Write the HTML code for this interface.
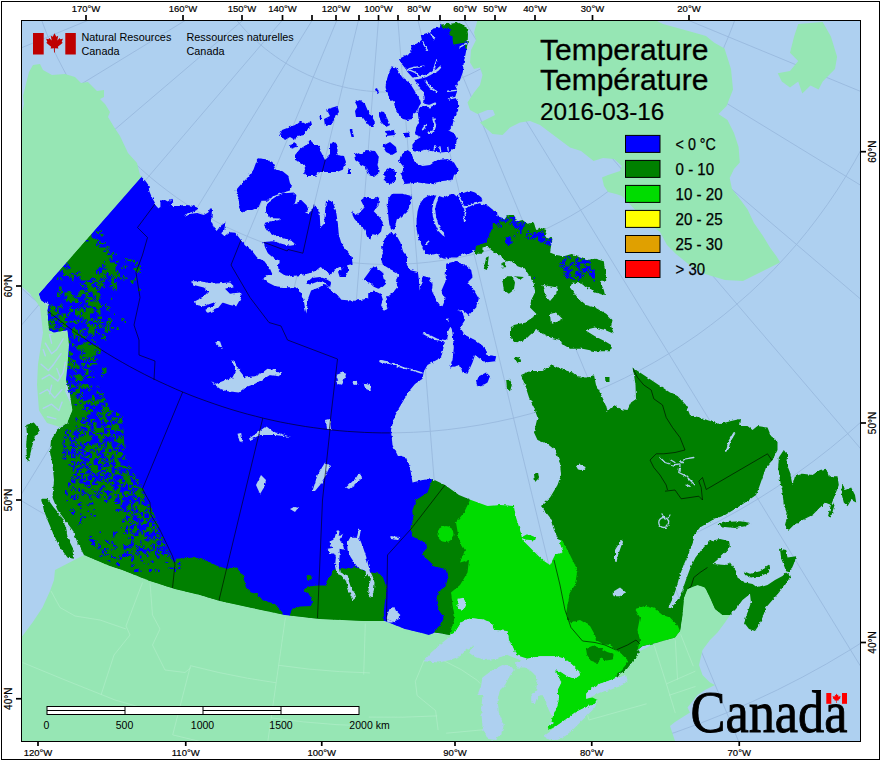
<!DOCTYPE html><html><head><meta charset="utf-8"><title>Temperature</title><style>html,body{margin:0;padding:0;background:#fff}svg{display:block}text{font-family:"Liberation Sans",sans-serif;fill:#000}</style></head><body>
<svg width="880" height="760" viewBox="0 0 880 760">
<defs><clipPath id="can">
<polygon points="141.4,176.9 145.7,181.2 148.4,184.9 149.3,191.3 152.1,197.8 155.8,204.2 157.6,208.8 160.4,207.0 160.4,200.5 165.0,200.1 167.8,201.4 171.4,198.7 173.3,203.3 169.6,206.0 177.9,206.0 185.2,205.1 192.6,205.7 199.1,208.3 194.5,211.2 187.1,213.4 184.9,216.7 190.8,213.8 197.2,213.0 203.7,214.9 208.3,212.5 210.1,208.3 212.0,209.4 211.4,220.8 213.8,227.2 216.6,230.9 220.2,226.3 225.4,222.6 224.3,230.0 221.2,233.3 224.8,236.4 230.4,232.2 235.3,232.7 240.5,239.6 245.1,245.6 251.5,250.2 257.1,257.6 264.4,261.3 270.0,268.7 272.7,275.1 266.0,275.3 263.3,278.9 267.9,282.6 275.3,286.3 284.5,287.2 295.5,287.2 300.0,291.0 303.7,300.0 305.0,308.0 306.4,313.6 307.5,305.0 308.3,297.9 311.1,290.5 318.4,287.8 324.9,284.1 327.6,285.9 330.4,290.5 336.8,294.2 341.4,299.7 353.4,300.7 362.6,299.7 368.2,297.9 368.2,293.3 373.7,290.5 381.1,294.2 382.9,299.7 381.1,305.3 383.8,310.8 387.5,308.9 385.7,301.6 387.5,297.0 393.0,292.4 397.6,286.8 395.8,280.4 398.6,274.9 395.8,272.1 390.3,269.3 382.9,264.7 381.1,259.2 382.9,253.7 382.0,244.5 385.7,237.1 390.3,232.5 395.8,234.3 400.4,242.6 403.2,251.8 407.8,257.4 406.8,264.7 410.5,270.3 417.9,272.1 418.8,279.5 419.7,290.5 421.6,283.2 422.5,275.8 428.9,277.6 432.6,285.0 431.7,290.5 436.3,299.7 440.0,305.3 442.5,306.2 445.5,298.8 441.2,291.2 445.5,281.2 446.2,263.8 455.0,261.2 465.0,265.0 471.2,270.0 472.5,277.5 467.5,282.5 473.8,290.0 478.8,298.8 476.2,307.5 468.8,315.0 462.5,310.0 455.0,311.2 455.0,317.5 446.2,318.8 451.2,325.0 447.5,332.5 446.2,340.0 437.5,338.8 425.0,332.5 422.5,333.8 433.8,340.0 445.0,341.2 441.2,357.5 427.5,365.0 423.8,371.2 422.5,378.8 415.0,384.0 410.0,390.0 405.0,398.0 399.0,408.0 394.0,418.0 391.0,430.0 392.5,445.0 397.5,455.0 406.0,457.5 410.0,467.5 412.5,482.5 422.5,480.0 432.5,479.0 445.0,485.0 459.0,495.0 471.0,500.0 487.5,506.0 500.0,505.0 514.0,506.0 516.0,517.5 520.0,530.0 522.5,540.0 532.5,550.0 542.5,560.0 550.0,565.0 555.0,555.0 562.5,552.5 560.0,542.5 554.0,530.0 550.0,517.5 541.0,506.0 550.0,497.5 557.5,485.0 561.0,475.0 560.0,462.5 555.0,450.0 547.5,444.0 537.5,440.0 534.0,432.5 537.5,417.5 534.0,407.5 529.0,397.5 525.0,385.0 521.0,375.0 530.0,371.0 542.5,371.0 552.5,365.0 561.0,369.0 572.5,372.5 579.0,377.5 587.5,377.5 594.0,375.0 596.0,385.0 600.0,392.5 606.0,405.0 607.5,411.0 614.0,405.0 620.0,409.0 627.5,410.0 631.0,402.5 636.0,399.0 635.5,385.0 634.0,375.0 632.5,367.5 640.0,372.5 647.5,377.5 655.0,382.5 662.5,387.5 670.0,392.5 677.5,396.0 686.0,405.0 690.0,415.0 700.0,417.5 710.0,421.0 720.0,424.0 731.0,421.0 740.0,419.0 739.0,426.0 747.5,426.0 752.5,430.0 757.5,426.0 767.5,427.5 771.0,436.0 777.5,441.0 777.5,450.0 772.5,460.0 766.0,467.5 762.5,477.5 759.0,487.5 756.0,495.0 747.5,501.0 737.5,507.5 725.0,515.0 712.5,520.0 700.0,527.5 694.0,535.0 693.9,540.0 689.1,552.7 683.4,565.5 679.5,576.6 676.4,587.7 672.5,598.9 668.4,607.5 670.6,608.4 676.4,602.0 682.1,590.9 686.5,578.2 690.7,567.0 695.5,557.5 701.8,549.5 709.8,541.0 720.0,539.0 729.0,541.0 730.0,546.0 727.5,550.0 720.0,557.5 712.5,564.0 725.0,565.0 730.0,562.5 736.0,571.0 737.5,577.5 745.0,582.5 752.5,584.0 758.0,588.0 767.5,585.0 775.0,580.0 782.5,576.0 786.0,572.5 791.0,576.0 785.0,584.0 779.0,592.5 772.5,600.0 766.0,607.5 762.5,617.5 759.0,625.0 755.0,631.0 749.0,629.0 744.0,622.5 747.5,612.5 751.0,602.5 750.0,594.0 742.5,600.0 736.0,609.0 730.0,615.0 722.5,615.0 715.0,609.0 710.0,597.5 705.0,587.5 697.5,585.0 687.5,589.0 684.0,597.5 682.5,615.0 680.0,631.0 675.0,637.5 657.5,642.5 642.5,646.0 637.5,650.0 640.0,651.2 630.0,665.0 626.2,670.0 620.0,673.8 617.5,677.5 607.5,681.2 600.0,683.8 592.5,687.5 586.2,693.8 586.2,698.8 592.5,697.5 597.5,700.0 595.0,703.8 585.0,707.5 575.0,712.5 565.0,720.0 556.2,726.2 548.8,730.0 547.5,726.2 551.2,723.8 552.5,717.5 556.2,708.8 558.8,700.0 557.5,690.0 561.2,682.5 558.8,677.5 555.0,670.0 560.0,671.2 567.5,676.2 575.0,678.8 580.0,675.0 578.8,671.2 572.5,665.0 565.0,658.8 555.0,656.2 540.0,656.2 527.5,658.8 516.2,655.0 512.5,646.2 508.8,640.0 507.5,631.2 495.0,630.0 491.2,622.5 482.5,619.5 470.0,618.0 461.2,622.5 455.0,632.5 450.0,635.0 435.0,632.5 428.8,635.0 420.0,632.5 405.0,629.0 385.0,621.0 365.0,621.0 320.0,619.0 285.0,615.0 252.0,608.0 220.0,601.0 200.0,595.0 175.0,589.0 150.0,581.0 122.5,570.0 110.0,566.0 97.0,560.5 84.0,555.0 77.5,542.5 72.5,530.0 65.0,520.0 57.5,510.0 52.5,497.5 54.0,480.0 52.5,465.0 50.0,452.5 51.0,440.0 57.5,430.0 67.5,422.5 72.5,410.0 70.0,395.0 66.0,380.0 67.5,365.0 69.0,345.0 67.5,330.0 54.0,332.5 49.0,330.0 47.5,310.0 49.0,304.0 41.0,300.0 39.0,294.0"/>
<polygon points="306.0,283.0 312.0,278.0 320.0,277.0 326.0,279.0 331.0,282.0 330.0,288.0 325.0,283.0 318.0,281.5 310.0,284.5"/>
<polygon points="257.8,158.3 266.0,159.2 272.5,162.0 275.3,169.3 282.6,171.2 288.2,175.8 290.0,183.2 292.8,186.8 290.0,190.5 280.8,193.3 271.6,197.0 266.0,200.7 261.4,200.7 258.7,207.1 252.2,209.9 247.6,209.9 242.1,212.6 239.3,205.3 238.4,197.9 235.7,190.5 240.3,185.0 247.6,177.6 253.2,170.3 255.9,162.9"/>
<polygon points="266.0,207.1 268.8,201.6 275.3,197.0 284.5,193.3 293.7,192.4 296.4,195.1 295.5,201.6 292.8,204.3 297.4,203.4 301.0,199.7 306.6,205.3 308.4,209.9 303.8,212.6 308.4,213.6 313.0,208.9 313.9,204.3 319.5,210.8 320.4,227.4 324.1,223.7 325.0,212.6 325.9,201.6 328.7,199.7 332.4,201.6 336.0,210.8 337.9,223.7 338.8,234.7 341.6,243.9 347.1,251.3 351.7,256.8 352.6,264.2 347.1,265.1 348.9,269.7 345.3,277.1 339.7,277.1 337.9,271.6 342.5,269.7 341.6,266.1 334.2,269.7 330.5,275.3 325.0,269.7 320.4,267.0 315.8,270.7 308.4,273.4 299.2,275.3 290.0,276.2 284.5,275.3 278.9,271.6 278.0,266.1 279.9,260.5 274.3,258.7 267.9,253.2 265.1,247.6 263.3,242.1 273.4,241.2 282.6,243.9 290.0,245.8 294.6,244.9 292.8,241.2 284.5,238.4 275.3,235.7 267.9,231.1 264.2,225.5 265.1,222.8 271.6,220.9 280.8,220.0 279.9,218.5 271.6,218.2 267.9,216.3 266.0,211.7"/>
<polygon points="352.5,210.4 355.3,215.0 360.8,211.3 364.5,207.6 360.8,200.3 364.5,197.5 373.7,198.4 379.2,197.5 378.3,205.8 373.7,211.3 379.2,216.8 382.9,222.4 381.1,231.6 377.4,235.3 372.8,234.3 370.0,239.9 367.2,237.1 364.5,229.7 358.9,224.2 354.3,218.7 352.5,215.0"/>
<polygon points="388.4,198.4 392.1,193.8 403.2,193.8 410.5,195.7 411.4,202.1 406.8,211.3 401.3,216.8 396.7,219.6 394.9,227.9 391.2,229.7 389.3,224.2 388.4,216.8 387.5,207.6"/>
<polygon points="363.6,279.5 369.1,272.1 372.8,266.2 377.4,268.4 382.0,272.1 383.8,279.5 386.6,283.2 382.9,286.8 378.3,288.7 373.7,286.8 370.0,283.2 366.3,281.3"/>
<polygon points="279.0,136.0 282.0,130.0 295.0,125.0 300.0,121.0 306.0,124.0 311.0,121.0 312.0,125.0 307.0,130.0 304.0,135.0 297.0,136.0 295.0,140.0 290.0,137.0 285.0,140.0 281.0,136.0"/>
<polygon points="295.0,155.0 300.0,149.0 306.0,145.0 310.0,140.0 314.0,144.0 319.0,145.0 321.0,152.0 325.0,160.0 330.0,155.0 330.0,145.0 334.0,141.0 337.5,145.0 337.5,155.0 344.0,156.0 346.0,162.0 342.0,170.0 337.0,172.0 327.0,172.0 320.0,172.0 315.0,176.0 307.0,176.0 304.0,172.0 306.0,167.0 300.0,162.0 295.0,160.0"/>
<polygon points="289.0,145.0 296.0,143.0 297.0,147.0 291.0,149.0"/>
<polygon points="327.5,109.0 337.5,106.0 339.0,112.0 335.0,117.0 331.0,125.0 325.0,126.0 324.0,119.0 330.0,116.0 327.5,111.0"/>
<polygon points="319.5,115.0 321.0,115.0 321.5,120.0 320.0,120.0"/>
<polygon points="355.0,102.0 360.0,100.0 365.0,104.0 367.5,110.0 371.0,115.0 375.0,122.0 372.5,127.0 367.5,124.0 362.5,117.0 356.0,117.0 355.0,111.0 357.5,107.0"/>
<polygon points="379.0,111.0 384.0,112.0 387.5,119.0 390.0,125.0 386.0,127.0 381.0,122.0 379.0,116.0"/>
<polygon points="385.0,131.0 394.0,130.0 395.0,135.0 386.0,136.0"/>
<polygon points="404.0,133.0 409.0,132.5 410.0,137.0 405.0,137.5"/>
<polygon points="349.5,129.0 352.0,129.0 354.0,137.0 351.5,137.0"/>
<polygon points="375.0,89.0 377.0,88.0 379.0,93.0 377.0,94.0"/>
<polygon points="354.0,152.0 360.0,155.0 366.0,150.0 375.0,151.0 379.0,157.0 377.5,165.0 380.0,172.0 374.0,177.0 369.0,175.0 366.0,167.0 360.0,164.0 355.0,160.0"/>
<polygon points="382.5,146.0 390.0,142.0 396.0,147.0 397.0,152.0 392.0,155.0 386.0,152.0"/>
<polygon points="384.0,172.5 390.0,167.5 396.0,172.5 396.0,180.0 390.0,184.0 385.0,181.0"/>
<polygon points="347.5,169.0 351.0,169.0 351.0,174.0 347.5,174.0"/>
<polygon points="416.0,128.0 421.0,126.0 424.0,130.0 422.0,135.0 417.0,134.0"/>
<polygon points="399.0,161.0 401.0,155.0 407.5,150.0 411.0,152.5 415.0,162.5 422.5,166.0 430.0,165.0 437.5,160.0 447.5,159.0 454.0,162.5 459.0,171.0 454.0,175.0 452.5,180.0 442.5,181.0 430.0,184.0 417.5,182.5 405.0,184.0 401.0,175.0 404.0,167.5"/>
<polygon points="392.2,66.5 396.0,67.5 398.9,72.3 402.7,78.0 407.5,81.4 410.9,84.7 413.8,89.4 416.5,94.2 419.9,99.0 421.0,103.2 418.9,106.6 417.0,112.3 413.2,113.3 412.3,119.0 407.5,120.0 402.7,119.0 398.9,114.2 395.1,108.5 394.1,102.8 389.4,99.0 387.5,93.2 385.5,87.5 386.5,80.8 388.4,74.2 390.3,69.4"/>
<polygon points="440.9,24.5 452.3,23.6 458.1,22.6 466.6,26.5 468.0,34.1 467.6,43.6 465.7,53.2 463.8,62.7 462.8,72.3 460.0,79.9 456.2,85.6 457.1,91.3 455.2,97.1 458.1,102.8 458.1,110.4 454.2,118.1 452.3,125.7 448.5,130.5 454.2,133.3 457.1,139.0 455.2,146.7 450.4,151.5 440.9,152.4 433.3,151.5 425.6,149.5 418.9,151.5 413.2,151.5 412.3,144.8 416.1,140.0 420.8,137.1 415.1,134.3 416.1,127.6 418.9,121.9 418.0,114.2 418.9,108.5 424.1,103.7 424.7,97.1 422.8,91.3 419.5,88.1 417.0,83.1 413.8,78.9 407.5,71.9 404.6,67.5 400.8,62.7 398.9,58.9 404.6,56.0 411.3,52.2 411.3,45.5 417.0,43.6 421.8,39.8 420.8,35.0 429.4,32.2 433.3,28.4 439.0,27.4"/>
<polygon points="417.6,211.3 419.7,203.9 423.4,198.7 428.7,195.5 437.6,195.5 443.4,197.6 449.7,194.5 453.9,193.9 456.6,196.6 458.2,192.9 463.4,192.9 469.7,190.8 475.0,192.4 480.3,196.6 482.4,200.8 478.2,202.4 481.3,203.9 487.6,205.5 492.9,209.7 497.1,211.8 497.5,216.2 505.0,218.8 507.5,215.0 513.8,215.0 517.5,221.2 522.5,220.0 527.5,223.8 533.8,222.5 536.2,230.0 540.0,227.5 546.2,230.0 545.0,236.2 552.5,238.8 551.2,245.0 550.0,252.5 556.2,255.0 563.8,256.2 572.5,253.8 580.0,257.5 586.2,260.0 595.0,258.8 603.8,261.2 605.0,270.0 606.2,280.0 600.0,281.2 603.8,290.0 605.0,295.0 595.0,292.5 587.5,287.5 582.5,283.8 572.5,282.5 570.0,287.5 577.5,297.5 586.2,305.0 595.0,307.5 606.2,313.8 612.5,320.0 611.2,326.2 613.8,333.8 605.0,330.0 595.0,327.5 585.0,330.0 595.0,336.2 605.0,341.2 611.2,345.0 610.0,351.2 595.0,351.2 582.5,348.8 570.0,348.8 563.8,345.0 560.0,340.0 550.0,337.5 542.5,333.8 536.2,330.0 530.0,335.0 525.0,340.0 516.2,342.5 510.0,337.5 510.0,330.0 513.8,325.0 525.0,322.5 532.5,317.5 537.5,315.0 530.0,307.5 531.2,300.0 535.0,292.5 533.8,283.8 528.8,275.0 525.0,268.8 517.5,266.2 512.5,261.2 506.2,261.2 500.0,256.2 491.2,250.0 487.5,246.2 482.5,247.5 482.5,253.8 475.0,253.8 475.0,245.0 475.0,250.3 471.8,252.4 467.6,254.5 461.3,254.5 457.1,257.6 450.8,257.6 445.5,258.7 439.7,257.6 437.6,253.4 430.8,255.0 425.5,253.4 422.4,248.2 422.9,245.2 420.8,242.4 418.2,237.6 416.6,229.2 416.6,219.7"/>
<polygon points="502.5,281.2 506.2,276.2 512.5,276.2 515.0,282.5 513.8,290.0 508.8,293.8 503.8,290.0"/>
<polygon points="515.0,276.2 523.8,277.0 520.0,280.0"/>
<polygon points="483.8,268.8 486.2,257.5 488.8,256.2 487.0,270.0"/>
<polygon points="501.2,263.8 505.0,262.0 506.2,267.0 502.5,267.5"/>
<polygon points="447.5,317.5 455.0,310.0 462.5,312.5 465.0,320.0 460.0,327.5 465.0,335.0 475.0,340.0 485.0,347.5 487.5,355.0 496.2,356.2 495.0,361.2 485.0,362.5 475.0,355.0 472.5,362.5 467.5,373.8 462.5,372.5 460.0,365.0 450.0,367.5 452.5,360.0 453.8,347.5 452.5,332.5 450.0,325.0"/>
<polygon points="476.2,382.5 478.8,376.2 486.2,372.5 490.0,376.2 487.5,382.5 481.2,386.2 477.5,386.2"/>
<polygon points="506.2,380.0 510.0,378.8 511.8,385.0 510.0,391.2 507.0,388.8"/>
<polygon points="513.8,358.0 518.8,357.0 521.2,360.5 517.0,363.0"/>
<polygon points="605.0,377.0 609.5,377.0 609.5,382.0 605.5,382.0"/>
<polygon points="521.0,537.5 527.5,534.0 536.0,537.5 535.0,540.5 525.0,539.5"/>
<polygon points="534.0,474.0 538.0,472.0 539.0,478.0 535.0,482.0"/>
<polygon points="26.2,425.0 33.8,422.5 40.0,430.0 35.0,436.2 32.5,445.0 30.0,455.0 29.5,461.2 27.0,460.0 26.2,445.0 27.0,435.0"/>
<polygon points="41.2,498.8 47.5,498.8 53.8,507.5 61.2,516.2 66.2,527.5 67.5,537.5 73.8,550.0 73.8,558.8 67.5,557.5 60.0,547.5 53.8,535.0 47.5,520.0 43.8,510.0"/>
<polygon points="778.8,457.5 783.8,450.0 787.5,455.0 786.2,462.5 790.0,472.5 792.5,485.0 795.0,476.2 802.5,473.8 812.5,475.0 820.0,470.0 826.2,468.8 828.8,476.2 837.5,476.2 838.8,485.0 835.0,495.0 831.2,505.0 825.0,502.5 820.0,507.5 812.5,515.0 802.5,520.0 793.8,525.0 788.8,530.0 785.0,525.0 787.5,515.0 783.8,505.0 782.5,492.5 780.0,480.0 778.2,467.5"/>
<polygon points="842.5,482.5 845.0,490.0 851.2,487.5 855.0,495.0 856.2,502.5 851.2,500.0 847.5,506.2 843.8,502.5 841.2,492.5"/>
<polygon points="831.2,503.8 834.5,505.0 831.2,516.2 828.0,516.2"/>
<polygon points="717.5,524.5 726.2,522.0 740.0,521.2 751.2,523.0 745.0,526.2 735.0,528.0 725.0,527.0"/>
<polygon points="780.0,548.8 786.2,550.0 787.5,557.5 796.2,556.2 793.8,563.8 790.0,572.5 786.2,571.2 783.8,565.0 781.2,558.8"/>
<polygon points="743.8,571.2 750.0,573.8 760.0,571.2 770.0,565.0 768.8,572.5 760.0,576.2 750.0,577.5 745.0,575.0"/>
</clipPath><filter id="rag" x="0" y="0" width="880" height="760" filterUnits="userSpaceOnUse"><feTurbulence type="fractalNoise" baseFrequency="0.28" numOctaves="2" seed="4" result="t"/><feDisplacementMap in="SourceGraphic" in2="t" scale="3.2" xChannelSelector="R" yChannelSelector="G"/></filter><clipPath id="frame"><rect x="21" y="20" width="840" height="721"/></clipPath></defs>
<rect x="0" y="0" width="880" height="760" fill="#fff"/>
<g clip-path="url(#frame)">
<rect x="21" y="20" width="840" height="721" fill="#aed0f0"/>
<g fill="none" stroke="#98b9de" stroke-width="0.9">
<polyline points="345.9,-86.1 -602.1,305.2"/>
<polyline points="349.1,-79.7 -525.8,455.2"/>
<polyline points="378.2,-95.1 -427.1,591.5"/>
<polyline points="358.4,-68.8 -308.2,710.6"/>
<polyline points="364.2,-64.6 -172.1,809.6"/>
<polyline points="383.2,-91.5 -22.2,886.0"/>
<polyline points="377.5,-59.1 137.9,938.1"/>
<polyline points="384.6,-57.9 304.1,964.4"/>
<polyline points="389.2,-90.5 472.3,964.4"/>
<polyline points="398.9,-59.1 638.5,938.1"/>
<polyline points="405.7,-61.3 798.6,886.0"/>
<polyline points="395.1,-92.4 948.5,809.6"/>
<polyline points="418.0,-68.8 1084.6,710.6"/>
<polyline points="423.1,-73.9 1203.5,591.5"/>
<polyline points="399.4,-96.7 1302.2,455.2"/>
<polyline points="430.5,-86.1 1378.5,305.2"/>
<polyline points="-493.0,-35.6 -490.4,-7.9 -487.0,19.7 -482.6,47.1 -477.5,74.4 -471.5,101.6 -464.6,128.5 -456.9,155.2 -448.3,181.6 -438.9,207.8 -428.7,233.7 -417.7,259.2 -405.9,284.3 -393.3,309.1 -380.0,333.5 -365.8,357.4 -351.0,380.9 -335.4,403.9 -319.1,426.4 -302.0,448.4 -284.3,469.8 -266.0,490.7 -247.0,510.9 -227.3,530.6 -207.1,549.6 -186.3,568.0 -164.9,585.8 -142.9,602.8 -120.4,619.2 -97.5,634.8 -74.0,649.7 -50.1,663.9 -25.7,677.3 -1.0,689.9 24.2,701.7 49.7,712.8 75.5,723.0 101.6,732.5 128.1,741.1 154.8,748.8 181.7,755.7 208.8,761.8 236.1,767.0 263.5,771.4 291.1,774.9 318.8,777.5 346.5,779.2 374.3,780.1 402.1,780.1 429.9,779.2 457.6,777.5 485.3,774.9 512.9,771.4 540.3,767.0 567.6,761.8 594.7,755.7 621.6,748.8 648.3,741.1 674.8,732.5 700.9,723.0 726.7,712.8 752.2,701.7 777.4,689.9 802.1,677.3 826.5,663.9 850.4,649.7 873.9,634.8 896.8,619.2 919.3,602.8 941.3,585.8 962.7,568.0 983.5,549.6 1003.7,530.6 1023.4,510.9 1042.4,490.7 1060.7,469.8 1078.4,448.4 1095.5,426.4 1111.8,403.9 1127.4,380.9 1142.2,357.4 1156.4,333.5 1169.7,309.1 1182.3,284.3 1194.1,259.2 1205.1,233.7 1215.3,207.8 1224.7,181.6 1233.3,155.2 1241.0,128.5 1247.9,101.6 1253.9,74.4 1259.0,47.1 1263.4,19.7 1266.8,-7.9 1269.4,-35.6"/>
<polyline points="-316.7,-49.2 -314.6,-27.0 -311.9,-5.0 -308.4,17.0 -304.3,38.8 -299.5,60.5 -294.0,82.1 -287.8,103.4 -281.0,124.6 -273.4,145.5 -265.3,166.2 -256.5,186.6 -247.0,206.7 -237.0,226.5 -226.3,246.0 -215.0,265.2 -203.1,284.0 -190.6,302.4 -177.6,320.4 -163.9,337.9 -149.8,355.1 -135.1,371.8 -119.9,388.0 -104.2,403.7 -88.0,419.0 -71.3,433.7 -54.2,447.9 -36.7,461.5 -18.7,474.6 -0.3,487.1 18.5,499.0 37.6,510.3 57.1,521.0 76.9,531.2 97.0,540.6 117.4,549.5 138.1,557.7 159.0,565.2 180.1,572.1 201.5,578.3 223.0,583.8 244.7,588.7 266.5,592.8 288.5,596.3 310.5,599.1 332.7,601.2 354.9,602.6 377.1,603.3 399.3,603.3 421.5,602.6 443.7,601.2 465.9,599.1 487.9,596.3 509.9,592.8 531.7,588.7 553.4,583.8 574.9,578.3 596.3,572.1 617.4,565.2 638.3,557.7 659.0,549.5 679.4,540.6 699.5,531.2 719.3,521.0 738.8,510.3 757.9,499.0 776.7,487.1 795.1,474.6 813.1,461.5 830.6,447.9 847.7,433.7 864.4,419.0 880.6,403.7 896.3,388.0 911.5,371.8 926.2,355.1 940.3,337.9 954.0,320.4 967.0,302.4 979.5,284.0 991.4,265.2 1002.7,246.0 1013.4,226.5 1023.4,206.7 1032.9,186.6 1041.7,166.2 1049.8,145.5 1057.4,124.6 1064.2,103.4 1070.4,82.1 1075.9,60.5 1080.7,38.8 1084.8,17.0 1088.3,-5.0 1091.0,-27.0 1093.1,-49.2"/>
<polyline points="-146.7,-62.3 -145.2,-45.5 -143.1,-28.8 -140.5,-12.1 -137.3,4.5 -133.7,20.9 -129.5,37.3 -124.8,53.5 -119.6,69.6 -113.9,85.4 -107.7,101.1 -101.0,116.6 -93.9,131.9 -86.2,146.9 -78.1,161.7 -69.5,176.3 -60.5,190.5 -51.0,204.5 -41.1,218.1 -30.8,231.5 -20.1,244.5 -8.9,257.1 2.6,269.5 14.5,281.4 26.8,293.0 39.5,304.1 52.5,314.9 65.8,325.2 79.4,335.2 93.4,344.6 107.6,353.7 122.1,362.3 136.9,370.4 151.9,378.1 167.2,385.3 182.7,392.0 198.4,398.2 214.2,403.9 230.3,409.1 246.5,413.9 262.8,418.1 279.3,421.7 295.9,424.9 312.5,427.5 329.3,429.7 346.1,431.3 362.9,432.3 379.8,432.8 396.6,432.8 413.5,432.3 430.3,431.3 447.1,429.7 463.9,427.5 480.5,424.9 497.1,421.7 513.6,418.1 529.9,413.9 546.1,409.1 562.2,403.9 578.0,398.2 593.7,392.0 609.2,385.3 624.5,378.1 639.5,370.4 654.3,362.3 668.8,353.7 683.0,344.6 697.0,335.2 710.6,325.2 723.9,314.9 736.9,304.1 749.6,293.0 761.9,281.4 773.8,269.5 785.3,257.1 796.5,244.5 807.2,231.5 817.5,218.1 827.4,204.5 836.9,190.5 845.9,176.3 854.5,161.7 862.6,146.9 870.3,131.9 877.4,116.6 884.1,101.1 890.3,85.4 896.0,69.6 901.2,53.5 905.9,37.3 910.1,20.9 913.7,4.5 916.9,-12.1 919.5,-28.8 921.6,-45.5 923.1,-62.3"/>
<polyline points="21.3,-75.3 22.4,-63.8 23.8,-52.3 25.6,-40.8 27.7,-29.5 30.2,-18.2 33.1,-7.0 36.3,4.2 39.9,15.2 43.8,26.1 48.0,36.8 52.6,47.5 57.5,57.9 62.8,68.2 68.3,78.4 74.2,88.4 80.4,98.1 86.9,107.7 93.7,117.1 100.8,126.2 108.2,135.2 115.8,143.8 123.7,152.3 131.9,160.5 140.3,168.4 149.0,176.1 157.9,183.4 167.1,190.5 176.4,197.4 186.0,203.9 195.7,210.1 205.7,216.0 215.8,221.5 226.1,226.8 236.6,231.7 247.2,236.3 258.0,240.6 268.9,244.5 279.9,248.1 291.0,251.3 302.2,254.2 313.5,256.7 324.9,258.9 336.3,260.7 347.8,262.2 359.3,263.3 370.8,264.0 382.4,264.4 394.0,264.4 405.6,264.0 417.1,263.3 428.6,262.2 440.1,260.7 451.5,258.9 462.9,256.7 474.2,254.2 485.4,251.3 496.5,248.1 507.5,244.5 518.4,240.6 529.2,236.3 539.8,231.7 550.3,226.8 560.6,221.5 570.7,216.0 580.7,210.1 590.4,203.9 600.0,197.4 609.3,190.5 618.5,183.4 627.4,176.1 636.1,168.4 644.5,160.5 652.7,152.3 660.6,143.8 668.2,135.2 675.6,126.2 682.7,117.1 689.5,107.7 696.0,98.1 702.2,88.4 708.1,78.4 713.6,68.2 718.9,57.9 723.8,47.5 728.4,36.8 732.6,26.1 736.5,15.2 740.1,4.2 743.3,-7.0 746.2,-18.2 748.7,-29.5 750.8,-40.8 752.6,-52.3 754.0,-63.8 755.1,-75.3"/>
<polyline points="193.1,-88.5 193.6,-82.4 194.4,-76.3 195.3,-70.2 196.5,-64.2 197.8,-58.2 199.3,-52.2 201.1,-46.3 202.9,-40.4 205.0,-34.6 207.3,-28.9 209.7,-23.3 212.3,-17.7 215.1,-12.2 218.1,-6.8 221.2,-1.5 224.5,3.7 228.0,8.8 231.6,13.8 235.3,18.6 239.3,23.4 243.3,28.0 247.5,32.5 251.9,36.9 256.4,41.1 261.0,45.1 265.7,49.1 270.6,52.8 275.6,56.5 280.6,59.9 285.8,63.2 291.1,66.4 296.5,69.3 302.0,72.1 307.6,74.8 313.2,77.2 318.9,79.5 324.7,81.6 330.6,83.5 336.5,85.2 342.5,86.7 348.5,88.1 354.5,89.2 360.6,90.2 366.7,90.9 372.8,91.5 379.0,91.9 385.1,92.1 391.3,92.1 397.4,91.9 403.6,91.5 409.7,90.9 415.8,90.2 421.9,89.2 427.9,88.1 433.9,86.7 439.9,85.2 445.8,83.5 451.7,81.6 457.5,79.5 463.2,77.2 468.8,74.8 474.4,72.1 479.9,69.3 485.3,66.4 490.6,63.2 495.8,59.9 500.8,56.5 505.8,52.8 510.7,49.1 515.4,45.1 520.0,41.1 524.5,36.9 528.9,32.5 533.1,28.0 537.1,23.4 541.1,18.6 544.8,13.8 548.4,8.8 551.9,3.7 555.2,-1.5 558.3,-6.8 561.3,-12.2 564.1,-17.7 566.7,-23.3 569.1,-28.9 571.4,-34.6 573.5,-40.4 575.3,-46.3 577.1,-52.2 578.6,-58.2 579.9,-64.2 581.1,-70.2 582.0,-76.3 582.8,-82.4 583.3,-88.5"/>
</g>
<g fill="#96e6b4">
<polygon points="21.0,117.0 22.0,112.0 24.0,104.0 23.0,96.0 26.0,84.0 29.0,72.0 33.0,65.0 40.0,64.0 43.0,70.0 52.0,75.0 65.0,74.0 75.0,77.0 81.0,83.0 88.0,82.0 97.0,91.0 104.0,90.0 104.0,97.0 100.0,99.0 105.0,104.0 110.0,112.0 108.0,117.0 114.0,127.0 120.0,136.0 128.0,153.0 137.0,163.0 140.0,175.0 142.0,177.0 39.0,294.0 32.5,296.0 26.0,290.0 21.0,286.0"/>
<polygon points="39.0,294.0 41.0,300.0 47.4,306.0 47.5,310.0 48.4,330.5 54.0,332.5 68.4,331.6 69.0,345.0 68.4,364.0 65.0,391.6 71.6,406.0 72.5,410.0 67.4,423.0 60.0,427.0 47.0,423.0 39.0,410.5 37.0,385.0 38.0,364.0 43.0,332.6 40.0,307.0 35.0,300.0 30.5,294.7"/>
<polygon points="55.0,570.0 84.0,555.0 110.0,566.0 122.5,570.0 150.0,581.0 175.0,589.0 200.0,595.0 220.0,601.0 285.0,615.0 320.0,619.0 365.0,621.0 385.0,621.0 405.0,629.0 420.0,632.5 450.0,635.0 470.0,640.0 520.0,660.0 560.0,700.0 600.0,690.0 630.0,665.0 640.0,651.0 657.5,642.5 675.0,637.5 680.0,631.0 682.5,615.0 684.0,597.5 687.5,589.0 697.5,585.0 705.0,587.5 710.0,597.5 715.0,609.0 722.5,615.0 730.0,615.0 725.0,622.5 717.5,632.5 710.0,640.0 702.5,650.0 699.0,665.0 702.5,675.0 710.0,682.5 715.0,685.0 705.0,690.0 697.5,695.0 687.5,707.5 690.0,712.5 675.0,722.0 670.0,726.0 675.0,741.0 21.0,741.0 21.0,636.0 22.5,636.0 32.5,622.5 42.5,607.5 50.0,591.0 54.0,580.0"/>
<polygon points="477.5,20.0 474.0,32.5 476.0,40.0 471.0,50.0 470.0,62.5 474.0,69.0 480.0,67.5 482.5,75.0 480.0,85.0 474.0,92.5 467.5,102.5 470.0,110.0 477.5,114.0 487.5,110.0 493.0,110.0 495.0,115.0 485.0,120.0 480.0,122.5 485.0,127.5 492.5,134.0 502.5,135.0 510.0,127.5 520.0,122.5 530.0,121.0 540.0,125.0 550.0,132.5 560.0,140.0 570.0,147.5 581.0,151.0 593.6,161.0 603.0,158.0 614.0,159.0 622.0,166.0 620.0,171.0 608.0,175.0 602.0,177.5 604.0,186.0 608.0,192.0 616.0,194.0 622.0,196.0 640.0,215.0 655.0,228.0 660.0,232.0 667.0,245.0 676.0,254.0 689.5,265.0 705.0,274.0 725.0,280.0 743.0,281.0 761.0,272.0 779.0,263.0 780.0,262.0 776.6,256.5 770.0,247.5 763.0,236.0 754.0,223.0 747.6,209.5 741.0,200.5 732.0,189.0 729.7,178.0 734.0,169.0 739.8,162.5 738.6,147.0 734.0,133.0 727.5,120.0 718.5,114.0 726.6,106.0 733.0,89.5 731.0,69.0 724.5,48.6 714.0,42.5 706.0,36.0 692.0,32.0 663.0,24.0 655.0,20.0"/>
<polygon points="798.2,24.1 822.7,22.0 830.9,36.4 837.1,56.8 835.0,69.1 822.7,81.4 818.6,89.5 810.5,85.5 802.3,93.6 798.2,81.4 790.0,87.5 781.8,81.4 777.7,73.2 790.0,71.1 798.2,60.9 790.0,52.7 794.1,36.4"/>
</g>
<g stroke="#aed0f0" stroke-width="1.4" fill="none" stroke-linecap="round" stroke-linejoin="round">
<polyline points="45.3,343.2 51.6,353.7 56.8,349.5 63.2,338.9"/>
<polyline points="41.1,364.2 48.4,370.5 53.7,364.2 61.1,353.7"/>
<polyline points="42.1,378.9 49.5,374.7 57.9,381.1 63.2,372.6 65.3,362.1"/>
<polyline points="40.0,393.7 47.4,389.5 54.7,397.9 62.1,389.5"/>
<polyline points="43.2,408.4 51.6,404.2 58.9,410.5 62.1,402.1"/>
<polyline points="47.4,416.8 55.8,418.9"/>
<polyline points="51.6,343.2 49.5,334.7 53.7,333.7"/>
<polyline points="45.3,355.8 43.2,349.5"/>
<polyline points="51.6,385.3 49.5,393.7"/>
<polyline points="56.8,368.4 60.0,376.8"/>
</g>
<g stroke="#b4eecb" stroke-width="0.6" fill="none">
<polyline points="190.5,665.7 172.7,734.9"/>
<polyline points="286.0,613.5 266.1,753.5"/>
<polyline points="365.4,620.4 363.7,674.5"/>
<polyline points="190.5,665.7 218.8,672.5 247.4,678.2 276.2,682.8"/>
<polyline points="278.7,665.3 309.0,669.1 339.4,671.6 369.9,672.9"/>
<polyline points="172.7,734.9 202.5,742.0 232.5,748.0 262.7,753.0 293.1,756.9"/>
<polyline points="271.2,717.9 303.5,721.9 336.0,724.6 368.6,726.0"/>
<polyline points="142.5,582.5 126.0,626.0 130.0,635.0 114.0,655.0 101.0,695.0"/>
<polyline points="150.0,582.5 152.5,615.0 160.0,629.0 152.5,645.0 165.0,670.0 185.0,672.5 191.0,667.5"/>
<polyline points="51.0,591.0 60.0,607.5 75.0,616.0 100.0,620.0 126.0,629.0"/>
<polyline points="22.5,662.5 65.0,680.0 115.0,700.0 150.0,710.0"/>
<polyline points="587.6,714.8 588.9,720.0 646.6,703.8"/>
<polyline points="654.0,644.9 666.4,683.9 675.3,713.1"/>
<polyline points="675.1,637.1 677.6,679.9"/>
<polyline points="666.4,683.9 695.3,671.2"/>
<polyline points="669.1,695.3 695.6,686.4"/>
<polyline points="678.9,629.9 693.3,666.2"/>
<polyline points="443.6,660.6 461.4,669.7 477.3,680.4 480.2,683.6"/>
<polyline points="424.2,660.0 415.4,681.4 417.1,695.5 435.6,710.6 438.1,730.1"/>
<polyline points="368.8,717.1 403.0,717.2 437.2,715.9"/>
<polyline points="446.2,733.2 483.0,729.8"/>
</g>
<defs><g id="cl">
<g clip-path="url(#can)">
<rect x="0" y="0" width="880" height="760" fill="#0000ff"/>
<polygon points="500.0,18.0 494.0,205.0 492.5,227.5 486.0,242.5 476.0,246.0 474.0,258.0 492.0,300.0 498.0,380.0 470.0,440.0 432.5,479.0 427.5,492.5 416.0,500.0 412.3,511.0 413.3,518.4 410.5,527.6 412.3,536.8 419.7,539.6 426.2,543.3 427.1,547.9 421.5,554.3 428.9,560.8 434.4,566.3 445.5,569.1 448.3,577.3 445.5,586.6 438.1,592.1 436.3,599.4 439.0,610.5 443.6,617.0 441.8,623.4 436.3,628.9 431.7,636.3 430.0,745.0 870.0,745.0 870.0,18.0" fill="#008000"/>
<polygon points="470.0,500.0 475.0,480.0 530.0,480.0 545.0,520.0 553.0,540.0 562.5,541.0 570.0,555.0 577.5,570.0 575.0,585.0 570.0,592.5 567.5,605.0 566.0,615.0 570.0,622.5 580.0,620.0 590.0,626.0 595.0,635.0 596.0,640.0 605.0,645.0 612.5,650.0 620.0,652.5 627.5,660.0 625.0,666.0 617.5,672.5 600.0,740.0 440.0,740.0 450.0,632.5 455.0,617.5 452.5,605.0 451.0,592.5 460.0,585.0 467.5,572.5 469.0,560.0 460.0,562.5 465.0,550.0 459.0,540.0 456.0,522.5 464.0,512.5" fill="#00dc00"/>
<circle cx="445.5" cy="534" r="8" fill="#00dc00"/>
<polygon points="635.0,609.0 645.0,606.0 655.0,609.0 662.5,615.0 670.0,617.5 677.5,625.0 680.0,631.0 675.0,637.5 657.5,642.5 642.5,646.0 637.5,650.0 640.0,640.0 637.5,630.0 640.0,617.5" fill="#00dc00"/>
<polygon points="600.0,644.0 610.0,645.0 617.5,650.0 612.5,657.5 625.0,662.5 622.5,670.0 615.0,676.0 600.0,681.0" fill="#00dc00"/>
<polygon points="586.0,648.4 593.4,645.6 600.8,648.4 607.2,652.1 613.7,653.9 612.7,659.4 606.3,660.4 600.8,658.5 597.1,663.1 590.6,660.4 587.0,654.8" fill="#008000"/>
<polygon points="20.0,380.0 66.0,380.0 100.0,387.5 110.0,410.0 122.5,415.0 125.0,455.0 135.0,475.0 145.0,492.5 152.5,510.0 160.0,530.0 167.5,550.0 173.8,562.5 177.5,558.8 195.0,557.5 207.5,561.0 217.5,566.0 227.5,569.0 236.0,567.5 242.5,574.0 246.0,587.5 251.0,592.5 257.5,594.0 262.5,600.0 275.0,604.0 282.5,612.5 282.0,640.0 20.0,640.0" fill="#008000"/>
<polygon points="300.0,606.4 311.0,605.9 312.0,601.3 310.1,595.8 303.7,590.2 307.4,586.6 318.4,585.6 325.8,585.6 326.7,581.0 331.3,575.5 333.1,570.0 340.5,568.1 347.9,569.1 355.2,567.2 360.8,569.1 366.3,571.8 373.7,572.7 379.2,573.7 382.9,577.3 385.6,584.7 386.6,592.1 384.7,603.1 383.8,610.5 383.8,640.0 290.0,640.0 290.0,614.5 292.5,609.0" fill="#008000"/>
<circle cx="309.2" cy="577.3" r="2.4" fill="#008000"/>
<polygon points="440.9,22.6 469.5,20.7 469.5,41.7 460.0,43.6 453.3,44.6 452.3,36.0 448.5,34.1 451.4,29.3 446.6,28.4 441.8,27.4" fill="#008000"/>
<polygon points="464.7,44.6 468.6,44.0 468.6,49.0 465.3,48.4" fill="#008000"/>
<path d="M20,380h6v1.5h-6zM32,380h1.5v1.5h-1.5zM35,380h9v1.5h-9zM56,380h1.5v1.5h-1.5zM60.5,380h6v1.5h-6zM68,380h1.5v1.5h-1.5zM20,381.5h6v1.5h-6zM35,381.5h7.5v1.5h-7.5zM44,381.5h1.5v1.5h-1.5zM53,381.5h4.5v1.5h-4.5zM60.5,381.5h4.5v1.5h-4.5zM68,381.5h7.5v1.5h-7.5zM23,383h3v1.5h-3zM29,383h1.5v1.5h-1.5zM35,383h1.5v1.5h-1.5zM38,383h1.5v1.5h-1.5zM53,383h3v1.5h-3zM57.5,383h3v1.5h-3zM62,383h18v1.5h-18zM81.5,383h1.5v1.5h-1.5zM24.5,384.5h1.5v1.5h-1.5zM27.5,384.5h3v1.5h-3zM32,384.5h1.5v1.5h-1.5zM48.5,384.5h1.5v1.5h-1.5zM53,384.5h1.5v1.5h-1.5zM59,384.5h1.5v1.5h-1.5zM63.5,384.5h3v1.5h-3zM69.5,384.5h1.5v1.5h-1.5zM74,384.5h3v1.5h-3zM78.5,384.5h3v1.5h-3zM89,384.5h1.5v1.5h-1.5zM27.5,386h1.5v1.5h-1.5zM30.5,386h1.5v1.5h-1.5zM33.5,386h1.5v1.5h-1.5zM42.5,386h4.5v1.5h-4.5zM53,386h3v1.5h-3zM60.5,386h1.5v1.5h-1.5zM65,386h1.5v1.5h-1.5zM69.5,386h1.5v1.5h-1.5zM75.5,386h3v1.5h-3zM89,386h1.5v1.5h-1.5zM92,386h4.5v1.5h-4.5zM23,387.5h1.5v1.5h-1.5zM27.5,387.5h1.5v1.5h-1.5zM30.5,387.5h4.5v1.5h-4.5zM36.5,387.5h1.5v1.5h-1.5zM41,387.5h4.5v1.5h-4.5zM50,387.5h1.5v1.5h-1.5zM53,387.5h3v1.5h-3zM60.5,387.5h1.5v1.5h-1.5zM65,387.5h1.5v1.5h-1.5zM71,387.5h7.5v1.5h-7.5zM80,387.5h1.5v1.5h-1.5zM83,387.5h1.5v1.5h-1.5zM86,387.5h1.5v1.5h-1.5zM89,387.5h12v1.5h-12zM24.5,389h3v1.5h-3zM33.5,389h1.5v1.5h-1.5zM39.5,389h3v1.5h-3zM44,389h3v1.5h-3zM60.5,389h7.5v1.5h-7.5zM69.5,389h6v1.5h-6zM80,389h9v1.5h-9zM90.5,389h10.5v1.5h-10.5zM23,390.5h3v1.5h-3zM35,390.5h1.5v1.5h-1.5zM41,390.5h1.5v1.5h-1.5zM44,390.5h3v1.5h-3zM48.5,390.5h1.5v1.5h-1.5zM51.5,390.5h1.5v1.5h-1.5zM66.5,390.5h9v1.5h-9zM80,390.5h16.5v1.5h-16.5zM98,390.5h3v1.5h-3zM20,392h3v1.5h-3zM24.5,392h1.5v1.5h-1.5zM30.5,392h1.5v1.5h-1.5zM41,392h1.5v1.5h-1.5zM44,392h3v1.5h-3zM50,392h3v1.5h-3zM68,392h1.5v1.5h-1.5zM71,392h1.5v1.5h-1.5zM80,392h1.5v1.5h-1.5zM83,392h13.5v1.5h-13.5zM99.5,392h3v1.5h-3zM23,393.5h3v1.5h-3zM27.5,393.5h1.5v1.5h-1.5zM32,393.5h3v1.5h-3zM38,393.5h6v1.5h-6zM50,393.5h1.5v1.5h-1.5zM53,393.5h1.5v1.5h-1.5zM57.5,393.5h3v1.5h-3zM66.5,393.5h3v1.5h-3zM71,393.5h1.5v1.5h-1.5zM77,393.5h22.5v1.5h-22.5zM23,395h1.5v1.5h-1.5zM33.5,395h6v1.5h-6zM41,395h1.5v1.5h-1.5zM44,395h3v1.5h-3zM50,395h7.5v1.5h-7.5zM65,395h4.5v1.5h-4.5zM75.5,395h4.5v1.5h-4.5zM83,395h9v1.5h-9zM95,395h7.5v1.5h-7.5zM24.5,396.5h1.5v1.5h-1.5zM33.5,396.5h1.5v1.5h-1.5zM36.5,396.5h1.5v1.5h-1.5zM39.5,396.5h1.5v1.5h-1.5zM47,396.5h1.5v1.5h-1.5zM53,396.5h1.5v1.5h-1.5zM65,396.5h1.5v1.5h-1.5zM77,396.5h1.5v1.5h-1.5zM80,396.5h12v1.5h-12zM95,396.5h3v1.5h-3zM102.5,396.5h1.5v1.5h-1.5zM45.5,398h1.5v1.5h-1.5zM54.5,398h6v1.5h-6zM80,398h10.5v1.5h-10.5zM95,398h6v1.5h-6zM21.5,399.5h1.5v1.5h-1.5zM33.5,399.5h1.5v1.5h-1.5zM59,399.5h1.5v1.5h-1.5zM83,399.5h3v1.5h-3zM90.5,399.5h1.5v1.5h-1.5zM95,399.5h1.5v1.5h-1.5zM21.5,401h3v1.5h-3zM45.5,401h1.5v1.5h-1.5zM83,401h1.5v1.5h-1.5zM93.5,401h1.5v1.5h-1.5zM99.5,401h1.5v1.5h-1.5zM104,401h3v1.5h-3zM20,402.5h1.5v1.5h-1.5zM23,402.5h1.5v1.5h-1.5zM60.5,402.5h1.5v1.5h-1.5zM80,402.5h1.5v1.5h-1.5zM86,402.5h1.5v1.5h-1.5zM89,402.5h1.5v1.5h-1.5zM98,402.5h7.5v1.5h-7.5zM20,404h1.5v1.5h-1.5zM24.5,404h1.5v1.5h-1.5zM38,404h1.5v1.5h-1.5zM42.5,404h3v1.5h-3zM74,404h3v1.5h-3zM84.5,404h6v1.5h-6zM93.5,404h1.5v1.5h-1.5zM96.5,404h9v1.5h-9zM24.5,405.5h1.5v1.5h-1.5zM44,405.5h1.5v1.5h-1.5zM83,405.5h19.5v1.5h-19.5zM104,405.5h1.5v1.5h-1.5zM107,405.5h1.5v1.5h-1.5zM66.5,407h1.5v1.5h-1.5zM84.5,407h1.5v1.5h-1.5zM89,407h4.5v1.5h-4.5zM95,407h7.5v1.5h-7.5zM42.5,408.5h3v1.5h-3zM62,408.5h3v1.5h-3zM83,408.5h3v1.5h-3zM87.5,408.5h13.5v1.5h-13.5zM86,410h1.5v1.5h-1.5zM93.5,410h9v1.5h-9zM104,410h1.5v1.5h-1.5zM108.5,410h1.5v1.5h-1.5zM90.5,411.5h6v1.5h-6zM98,411.5h4.5v1.5h-4.5zM110,411.5h1.5v1.5h-1.5zM113,411.5h3v1.5h-3zM20,413h1.5v1.5h-1.5zM90.5,413h6v1.5h-6zM98,413h1.5v1.5h-1.5zM105.5,413h3v1.5h-3zM111.5,413h4.5v1.5h-4.5zM87.5,414.5h9v1.5h-9zM98,414.5h1.5v1.5h-1.5zM101,414.5h1.5v1.5h-1.5zM105.5,414.5h1.5v1.5h-1.5zM110,414.5h6v1.5h-6zM119,414.5h3v1.5h-3zM87.5,416h10.5v1.5h-10.5zM99.5,416h3v1.5h-3zM105.5,416h6v1.5h-6zM113,416h9v1.5h-9zM75.5,417.5h1.5v1.5h-1.5zM81.5,417.5h3v1.5h-3zM89,417.5h10.5v1.5h-10.5zM107,417.5h4.5v1.5h-4.5zM117.5,417.5h1.5v1.5h-1.5zM120.5,417.5h1.5v1.5h-1.5zM75.5,419h1.5v1.5h-1.5zM81.5,419h1.5v1.5h-1.5zM86,419h4.5v1.5h-4.5zM95,419h4.5v1.5h-4.5zM102.5,419h1.5v1.5h-1.5zM107,419h4.5v1.5h-4.5zM114.5,419h1.5v1.5h-1.5zM117.5,419h1.5v1.5h-1.5zM122,419h1.5v1.5h-1.5zM80,420.5h3v1.5h-3zM84.5,420.5h6v1.5h-6zM92,420.5h12v1.5h-12zM108.5,420.5h1.5v1.5h-1.5zM111.5,420.5h3v1.5h-3zM116,420.5h1.5v1.5h-1.5zM81.5,422h4.5v1.5h-4.5zM87.5,422h6v1.5h-6zM96.5,422h4.5v1.5h-4.5zM102.5,422h3v1.5h-3zM107,422h4.5v1.5h-4.5zM113,422h4.5v1.5h-4.5zM122,422h1.5v1.5h-1.5zM87.5,423.5h1.5v1.5h-1.5zM90.5,423.5h3v1.5h-3zM96.5,423.5h15v1.5h-15zM113,423.5h1.5v1.5h-1.5zM117.5,423.5h6v1.5h-6zM84.5,425h1.5v1.5h-1.5zM89,425h1.5v1.5h-1.5zM92,425h1.5v1.5h-1.5zM96.5,425h6v1.5h-6zM104,425h3v1.5h-3zM110,425h1.5v1.5h-1.5zM119,425h4.5v1.5h-4.5zM75.5,426.5h1.5v1.5h-1.5zM80,426.5h3v1.5h-3zM90.5,426.5h4.5v1.5h-4.5zM96.5,426.5h4.5v1.5h-4.5zM102.5,426.5h3v1.5h-3zM110,426.5h1.5v1.5h-1.5zM119,426.5h4.5v1.5h-4.5zM77,428h1.5v1.5h-1.5zM80,428h7.5v1.5h-7.5zM90.5,428h3v1.5h-3zM104,428h7.5v1.5h-7.5zM119,428h4.5v1.5h-4.5zM66.5,429.5h1.5v1.5h-1.5zM75.5,429.5h1.5v1.5h-1.5zM80,429.5h1.5v1.5h-1.5zM84.5,429.5h3v1.5h-3zM92,429.5h3v1.5h-3zM104,429.5h3v1.5h-3zM110,429.5h1.5v1.5h-1.5zM113,429.5h1.5v1.5h-1.5zM116,429.5h1.5v1.5h-1.5zM120.5,429.5h1.5v1.5h-1.5zM65,431h1.5v1.5h-1.5zM69.5,431h1.5v1.5h-1.5zM74,431h1.5v1.5h-1.5zM77,431h1.5v1.5h-1.5zM83,431h1.5v1.5h-1.5zM89,431h1.5v1.5h-1.5zM93.5,431h1.5v1.5h-1.5zM104,431h4.5v1.5h-4.5zM110,431h4.5v1.5h-4.5zM116,431h4.5v1.5h-4.5zM65,432.5h1.5v1.5h-1.5zM72.5,432.5h7.5v1.5h-7.5zM84.5,432.5h1.5v1.5h-1.5zM89,432.5h3v1.5h-3zM96.5,432.5h1.5v1.5h-1.5zM99.5,432.5h4.5v1.5h-4.5zM105.5,432.5h1.5v1.5h-1.5zM110,432.5h13.5v1.5h-13.5zM66.5,434h1.5v1.5h-1.5zM72.5,434h6v1.5h-6zM80,434h3v1.5h-3zM89,434h6v1.5h-6zM101,434h1.5v1.5h-1.5zM110,434h3v1.5h-3zM116,434h7.5v1.5h-7.5zM75.5,435.5h3v1.5h-3zM81.5,435.5h1.5v1.5h-1.5zM93.5,435.5h4.5v1.5h-4.5zM104,435.5h1.5v1.5h-1.5zM110,435.5h1.5v1.5h-1.5zM113,435.5h1.5v1.5h-1.5zM116,435.5h1.5v1.5h-1.5zM119,435.5h1.5v1.5h-1.5zM63.5,437h3v1.5h-3zM69.5,437h1.5v1.5h-1.5zM74,437h1.5v1.5h-1.5zM77,437h1.5v1.5h-1.5zM92,437h6v1.5h-6zM105.5,437h12v1.5h-12zM120.5,437h3v1.5h-3zM68,438.5h4.5v1.5h-4.5zM74,438.5h1.5v1.5h-1.5zM92,438.5h7.5v1.5h-7.5zM102.5,438.5h12v1.5h-12zM116,438.5h1.5v1.5h-1.5zM63.5,440h1.5v1.5h-1.5zM69.5,440h6v1.5h-6zM90.5,440h9v1.5h-9zM102.5,440h12v1.5h-12zM63.5,441.5h1.5v1.5h-1.5zM71,441.5h1.5v1.5h-1.5zM75.5,441.5h1.5v1.5h-1.5zM80,441.5h1.5v1.5h-1.5zM83,441.5h1.5v1.5h-1.5zM86,441.5h13.5v1.5h-13.5zM102.5,441.5h1.5v1.5h-1.5zM105.5,441.5h1.5v1.5h-1.5zM108.5,441.5h1.5v1.5h-1.5zM111.5,441.5h6v1.5h-6zM62,443h1.5v1.5h-1.5zM72.5,443h3v1.5h-3zM80,443h1.5v1.5h-1.5zM84.5,443h3v1.5h-3zM89,443h7.5v1.5h-7.5zM98,443h6v1.5h-6zM105.5,443h1.5v1.5h-1.5zM111.5,443h7.5v1.5h-7.5zM63.5,444.5h1.5v1.5h-1.5zM69.5,444.5h6v1.5h-6zM77,444.5h1.5v1.5h-1.5zM80,444.5h3v1.5h-3zM84.5,444.5h3v1.5h-3zM89,444.5h3v1.5h-3zM98,444.5h1.5v1.5h-1.5zM105.5,444.5h1.5v1.5h-1.5zM111.5,444.5h6v1.5h-6zM119,444.5h3v1.5h-3zM63.5,446h3v1.5h-3zM71,446h6v1.5h-6zM81.5,446h3v1.5h-3zM99.5,446h1.5v1.5h-1.5zM102.5,446h1.5v1.5h-1.5zM105.5,446h1.5v1.5h-1.5zM111.5,446h6v1.5h-6zM119,446h4.5v1.5h-4.5zM81.5,447.5h3v1.5h-3zM95,447.5h1.5v1.5h-1.5zM104,447.5h1.5v1.5h-1.5zM113,447.5h1.5v1.5h-1.5zM117.5,447.5h1.5v1.5h-1.5zM120.5,447.5h3v1.5h-3zM63.5,449h1.5v1.5h-1.5zM66.5,449h1.5v1.5h-1.5zM71,449h4.5v1.5h-4.5zM78.5,449h4.5v1.5h-4.5zM90.5,449h3v1.5h-3zM102.5,449h1.5v1.5h-1.5zM108.5,449h3v1.5h-3zM113,449h4.5v1.5h-4.5zM119,449h3v1.5h-3zM123.5,449h1.5v1.5h-1.5zM63.5,450.5h3v1.5h-3zM68,450.5h1.5v1.5h-1.5zM71,450.5h3v1.5h-3zM75.5,450.5h1.5v1.5h-1.5zM78.5,450.5h1.5v1.5h-1.5zM81.5,450.5h4.5v1.5h-4.5zM89,450.5h1.5v1.5h-1.5zM93.5,450.5h1.5v1.5h-1.5zM96.5,450.5h1.5v1.5h-1.5zM101,450.5h3v1.5h-3zM108.5,450.5h3v1.5h-3zM119,450.5h6v1.5h-6zM62,452h4.5v1.5h-4.5zM68,452h9v1.5h-9zM78.5,452h4.5v1.5h-4.5zM86,452h4.5v1.5h-4.5zM96.5,452h1.5v1.5h-1.5zM99.5,452h3v1.5h-3zM116,452h1.5v1.5h-1.5zM122,452h3v1.5h-3zM65,453.5h1.5v1.5h-1.5zM68,453.5h1.5v1.5h-1.5zM71,453.5h1.5v1.5h-1.5zM74,453.5h1.5v1.5h-1.5zM77,453.5h3v1.5h-3zM81.5,453.5h10.5v1.5h-10.5zM96.5,453.5h7.5v1.5h-7.5zM107,453.5h1.5v1.5h-1.5zM122,453.5h3v1.5h-3zM63.5,455h1.5v1.5h-1.5zM71,455h1.5v1.5h-1.5zM74,455h1.5v1.5h-1.5zM77,455h1.5v1.5h-1.5zM80,455h1.5v1.5h-1.5zM84.5,455h1.5v1.5h-1.5zM90.5,455h1.5v1.5h-1.5zM101,455h3v1.5h-3zM105.5,455h1.5v1.5h-1.5zM111.5,455h1.5v1.5h-1.5zM122,455h3v1.5h-3zM62,456.5h1.5v1.5h-1.5zM71,456.5h4.5v1.5h-4.5zM80,456.5h4.5v1.5h-4.5zM89,456.5h3v1.5h-3zM99.5,456.5h6v1.5h-6zM111.5,456.5h3v1.5h-3zM120.5,456.5h3v1.5h-3zM125,456.5h1.5v1.5h-1.5zM63.5,458h3v1.5h-3zM80,458h9v1.5h-9zM95,458h4.5v1.5h-4.5zM102.5,458h1.5v1.5h-1.5zM105.5,458h1.5v1.5h-1.5zM110,458h3v1.5h-3zM117.5,458h4.5v1.5h-4.5zM83,459.5h7.5v1.5h-7.5zM93.5,459.5h4.5v1.5h-4.5zM101,459.5h3v1.5h-3zM105.5,459.5h3v1.5h-3zM113,459.5h1.5v1.5h-1.5zM119,459.5h9v1.5h-9zM71,461h3v1.5h-3zM77,461h3v1.5h-3zM81.5,461h1.5v1.5h-1.5zM84.5,461h4.5v1.5h-4.5zM93.5,461h4.5v1.5h-4.5zM102.5,461h3v1.5h-3zM107,461h1.5v1.5h-1.5zM110,461h1.5v1.5h-1.5zM113,461h1.5v1.5h-1.5zM120.5,461h7.5v1.5h-7.5zM74,462.5h1.5v1.5h-1.5zM77,462.5h1.5v1.5h-1.5zM80,462.5h6v1.5h-6zM93.5,462.5h4.5v1.5h-4.5zM99.5,462.5h1.5v1.5h-1.5zM105.5,462.5h3v1.5h-3zM110,462.5h6v1.5h-6zM120.5,462.5h9v1.5h-9zM69.5,464h1.5v1.5h-1.5zM74,464h1.5v1.5h-1.5zM77,464h1.5v1.5h-1.5zM80,464h1.5v1.5h-1.5zM84.5,464h3v1.5h-3zM89,464h1.5v1.5h-1.5zM93.5,464h9v1.5h-9zM104,464h6v1.5h-6zM111.5,464h4.5v1.5h-4.5zM120.5,464h9v1.5h-9zM71,465.5h3v1.5h-3zM81.5,465.5h3v1.5h-3zM86,465.5h3v1.5h-3zM98,465.5h3v1.5h-3zM102.5,465.5h3v1.5h-3zM107,465.5h1.5v1.5h-1.5zM113,465.5h3v1.5h-3zM125,465.5h3v1.5h-3zM72.5,467h3v1.5h-3zM78.5,467h4.5v1.5h-4.5zM84.5,467h4.5v1.5h-4.5zM98,467h4.5v1.5h-4.5zM111.5,467h3v1.5h-3zM117.5,467h6v1.5h-6zM128,467h1.5v1.5h-1.5zM72.5,468.5h3v1.5h-3zM77,468.5h3v1.5h-3zM86,468.5h1.5v1.5h-1.5zM89,468.5h1.5v1.5h-1.5zM98,468.5h3v1.5h-3zM105.5,468.5h1.5v1.5h-1.5zM113,468.5h4.5v1.5h-4.5zM120.5,468.5h1.5v1.5h-1.5zM123.5,468.5h4.5v1.5h-4.5zM129.5,468.5h3v1.5h-3zM72.5,470h1.5v1.5h-1.5zM77,470h1.5v1.5h-1.5zM80,470h1.5v1.5h-1.5zM87.5,470h3v1.5h-3zM101,470h4.5v1.5h-4.5zM111.5,470h3v1.5h-3zM117.5,470h1.5v1.5h-1.5zM120.5,470h6v1.5h-6zM128,470h4.5v1.5h-4.5zM75.5,471.5h3v1.5h-3zM86,471.5h6v1.5h-6zM98,471.5h4.5v1.5h-4.5zM107,471.5h1.5v1.5h-1.5zM113,471.5h3v1.5h-3zM119,471.5h3v1.5h-3zM123.5,471.5h3v1.5h-3zM129.5,471.5h4.5v1.5h-4.5zM74,473h3v1.5h-3zM80,473h4.5v1.5h-4.5zM87.5,473h1.5v1.5h-1.5zM92,473h3v1.5h-3zM96.5,473h3v1.5h-3zM102.5,473h1.5v1.5h-1.5zM105.5,473h6v1.5h-6zM113,473h1.5v1.5h-1.5zM120.5,473h1.5v1.5h-1.5zM128,473h4.5v1.5h-4.5zM74,474.5h3v1.5h-3zM81.5,474.5h1.5v1.5h-1.5zM89,474.5h3v1.5h-3zM93.5,474.5h3v1.5h-3zM98,474.5h3v1.5h-3zM104,474.5h4.5v1.5h-4.5zM110,474.5h1.5v1.5h-1.5zM114.5,474.5h4.5v1.5h-4.5zM122,474.5h1.5v1.5h-1.5zM129.5,474.5h4.5v1.5h-4.5zM71,476h1.5v1.5h-1.5zM77,476h6v1.5h-6zM87.5,476h16.5v1.5h-16.5zM105.5,476h4.5v1.5h-4.5zM113,476h9v1.5h-9zM131,476h1.5v1.5h-1.5zM134,476h1.5v1.5h-1.5zM72.5,477.5h1.5v1.5h-1.5zM75.5,477.5h3v1.5h-3zM81.5,477.5h1.5v1.5h-1.5zM84.5,477.5h1.5v1.5h-1.5zM87.5,477.5h4.5v1.5h-4.5zM95,477.5h4.5v1.5h-4.5zM101,477.5h1.5v1.5h-1.5zM104,477.5h3v1.5h-3zM113,477.5h10.5v1.5h-10.5zM129.5,477.5h3v1.5h-3zM135.5,477.5h1.5v1.5h-1.5zM71,479h1.5v1.5h-1.5zM74,479h1.5v1.5h-1.5zM80,479h6v1.5h-6zM93.5,479h7.5v1.5h-7.5zM104,479h1.5v1.5h-1.5zM108.5,479h1.5v1.5h-1.5zM113,479h1.5v1.5h-1.5zM116,479h3v1.5h-3zM122,479h3v1.5h-3zM131,479h4.5v1.5h-4.5zM71,480.5h4.5v1.5h-4.5zM78.5,480.5h4.5v1.5h-4.5zM86,480.5h3v1.5h-3zM93.5,480.5h3v1.5h-3zM98,480.5h1.5v1.5h-1.5zM101,480.5h1.5v1.5h-1.5zM105.5,480.5h1.5v1.5h-1.5zM108.5,480.5h9v1.5h-9zM122,480.5h3v1.5h-3zM131,480.5h4.5v1.5h-4.5zM137,480.5h1.5v1.5h-1.5zM74,482h1.5v1.5h-1.5zM80,482h9v1.5h-9zM92,482h3v1.5h-3zM107,482h1.5v1.5h-1.5zM114.5,482h4.5v1.5h-4.5zM125,482h1.5v1.5h-1.5zM132.5,482h4.5v1.5h-4.5zM138.5,482h1.5v1.5h-1.5zM68,483.5h3v1.5h-3zM84.5,483.5h4.5v1.5h-4.5zM92,483.5h6v1.5h-6zM110,483.5h1.5v1.5h-1.5zM113,483.5h7.5v1.5h-7.5zM122,483.5h1.5v1.5h-1.5zM125,483.5h3v1.5h-3zM132.5,483.5h4.5v1.5h-4.5zM138.5,483.5h1.5v1.5h-1.5zM68,485h1.5v1.5h-1.5zM83,485h1.5v1.5h-1.5zM86,485h1.5v1.5h-1.5zM89,485h1.5v1.5h-1.5zM102.5,485h1.5v1.5h-1.5zM111.5,485h6v1.5h-6zM122,485h1.5v1.5h-1.5zM125,485h3v1.5h-3zM129.5,485h3v1.5h-3zM135.5,485h6v1.5h-6zM72.5,486.5h1.5v1.5h-1.5zM87.5,486.5h3v1.5h-3zM101,486.5h4.5v1.5h-4.5zM113,486.5h6v1.5h-6zM120.5,486.5h3v1.5h-3zM125,486.5h3v1.5h-3zM129.5,486.5h1.5v1.5h-1.5zM132.5,486.5h1.5v1.5h-1.5zM74,488h1.5v1.5h-1.5zM78.5,488h1.5v1.5h-1.5zM99.5,488h3v1.5h-3zM113,488h4.5v1.5h-4.5zM120.5,488h7.5v1.5h-7.5zM132.5,488h6v1.5h-6zM71,489.5h1.5v1.5h-1.5zM75.5,489.5h1.5v1.5h-1.5zM78.5,489.5h1.5v1.5h-1.5zM81.5,489.5h3v1.5h-3zM92,489.5h1.5v1.5h-1.5zM99.5,489.5h1.5v1.5h-1.5zM104,489.5h1.5v1.5h-1.5zM107,489.5h1.5v1.5h-1.5zM114.5,489.5h1.5v1.5h-1.5zM120.5,489.5h13.5v1.5h-13.5zM135.5,489.5h1.5v1.5h-1.5zM65,491h1.5v1.5h-1.5zM81.5,491h3v1.5h-3zM95,491h1.5v1.5h-1.5zM98,491h1.5v1.5h-1.5zM104,491h9v1.5h-9zM119,491h4.5v1.5h-4.5zM129.5,491h1.5v1.5h-1.5zM132.5,491h3v1.5h-3zM141.5,491h3v1.5h-3zM65,492.5h3v1.5h-3zM83,492.5h4.5v1.5h-4.5zM96.5,492.5h1.5v1.5h-1.5zM99.5,492.5h3v1.5h-3zM105.5,492.5h3v1.5h-3zM122,492.5h1.5v1.5h-1.5zM129.5,492.5h1.5v1.5h-1.5zM132.5,492.5h1.5v1.5h-1.5zM143,492.5h3v1.5h-3zM66.5,494h1.5v1.5h-1.5zM74,494h1.5v1.5h-1.5zM81.5,494h3v1.5h-3zM87.5,494h3v1.5h-3zM93.5,494h3v1.5h-3zM98,494h1.5v1.5h-1.5zM107,494h1.5v1.5h-1.5zM114.5,494h1.5v1.5h-1.5zM117.5,494h1.5v1.5h-1.5zM122,494h3v1.5h-3zM126.5,494h1.5v1.5h-1.5zM132.5,494h1.5v1.5h-1.5zM144.5,494h1.5v1.5h-1.5zM71,495.5h4.5v1.5h-4.5zM77,495.5h1.5v1.5h-1.5zM89,495.5h1.5v1.5h-1.5zM96.5,495.5h3v1.5h-3zM108.5,495.5h3v1.5h-3zM117.5,495.5h1.5v1.5h-1.5zM123.5,495.5h1.5v1.5h-1.5zM128,495.5h9v1.5h-9zM143,495.5h3v1.5h-3zM69.5,497h3v1.5h-3zM74,497h1.5v1.5h-1.5zM77,497h1.5v1.5h-1.5zM89,497h1.5v1.5h-1.5zM98,497h1.5v1.5h-1.5zM104,497h1.5v1.5h-1.5zM108.5,497h3v1.5h-3zM117.5,497h1.5v1.5h-1.5zM123.5,497h9v1.5h-9zM134,497h1.5v1.5h-1.5zM137,497h3v1.5h-3zM144.5,497h3v1.5h-3zM74,498.5h1.5v1.5h-1.5zM90.5,498.5h1.5v1.5h-1.5zM107,498.5h1.5v1.5h-1.5zM116,498.5h3v1.5h-3zM122,498.5h12v1.5h-12zM137,498.5h4.5v1.5h-4.5zM143,498.5h4.5v1.5h-4.5zM66.5,500h1.5v1.5h-1.5zM104,500h4.5v1.5h-4.5zM114.5,500h6v1.5h-6zM123.5,500h6v1.5h-6zM131,500h9v1.5h-9zM144.5,500h4.5v1.5h-4.5zM80,501.5h1.5v1.5h-1.5zM105.5,501.5h1.5v1.5h-1.5zM117.5,501.5h3v1.5h-3zM122,501.5h9v1.5h-9zM132.5,501.5h3v1.5h-3zM138.5,501.5h1.5v1.5h-1.5zM141.5,501.5h1.5v1.5h-1.5zM144.5,501.5h4.5v1.5h-4.5zM78.5,503h1.5v1.5h-1.5zM89,503h4.5v1.5h-4.5zM116,503h4.5v1.5h-4.5zM122,503h7.5v1.5h-7.5zM131,503h3v1.5h-3zM138.5,503h1.5v1.5h-1.5zM141.5,503h9v1.5h-9zM78.5,504.5h3v1.5h-3zM87.5,504.5h1.5v1.5h-1.5zM119,504.5h1.5v1.5h-1.5zM122,504.5h6v1.5h-6zM131,504.5h1.5v1.5h-1.5zM143,504.5h4.5v1.5h-4.5zM120.5,506h6v1.5h-6zM131,506h1.5v1.5h-1.5zM135.5,506h1.5v1.5h-1.5zM147.5,506h3v1.5h-3zM80,507.5h1.5v1.5h-1.5zM122,507.5h4.5v1.5h-4.5zM132.5,507.5h1.5v1.5h-1.5zM135.5,507.5h1.5v1.5h-1.5zM69.5,509h1.5v1.5h-1.5zM72.5,509h1.5v1.5h-1.5zM93.5,509h1.5v1.5h-1.5zM116,509h6v1.5h-6zM123.5,509h3v1.5h-3zM128,509h1.5v1.5h-1.5zM131,509h6v1.5h-6zM146,509h1.5v1.5h-1.5zM149,509h1.5v1.5h-1.5zM74,510.5h1.5v1.5h-1.5zM87.5,510.5h1.5v1.5h-1.5zM117.5,510.5h1.5v1.5h-1.5zM123.5,510.5h3v1.5h-3zM128,510.5h1.5v1.5h-1.5zM131,510.5h3v1.5h-3zM135.5,510.5h3v1.5h-3zM144.5,510.5h3v1.5h-3zM149,510.5h1.5v1.5h-1.5zM152,510.5h1.5v1.5h-1.5zM71,512h3v1.5h-3zM126.5,512h1.5v1.5h-1.5zM129.5,512h1.5v1.5h-1.5zM132.5,512h3v1.5h-3zM137,512h1.5v1.5h-1.5zM140,512h3v1.5h-3zM72.5,513.5h1.5v1.5h-1.5zM80,513.5h1.5v1.5h-1.5zM90.5,513.5h1.5v1.5h-1.5zM132.5,513.5h1.5v1.5h-1.5zM140,513.5h3v1.5h-3zM144.5,513.5h4.5v1.5h-4.5zM150.5,513.5h1.5v1.5h-1.5zM93.5,515h1.5v1.5h-1.5zM126.5,515h1.5v1.5h-1.5zM132.5,515h3v1.5h-3zM137,515h1.5v1.5h-1.5zM141.5,515h1.5v1.5h-1.5zM144.5,515h4.5v1.5h-4.5zM152,515h1.5v1.5h-1.5zM81.5,516.5h4.5v1.5h-4.5zM90.5,516.5h1.5v1.5h-1.5zM126.5,516.5h3v1.5h-3zM134,516.5h3v1.5h-3zM144.5,516.5h4.5v1.5h-4.5zM150.5,516.5h3v1.5h-3zM80,518h1.5v1.5h-1.5zM123.5,518h1.5v1.5h-1.5zM126.5,518h1.5v1.5h-1.5zM132.5,518h7.5v1.5h-7.5zM141.5,518h1.5v1.5h-1.5zM150.5,518h4.5v1.5h-4.5zM80,519.5h1.5v1.5h-1.5zM122,519.5h1.5v1.5h-1.5zM126.5,519.5h1.5v1.5h-1.5zM129.5,519.5h1.5v1.5h-1.5zM134,519.5h4.5v1.5h-4.5zM140,519.5h3v1.5h-3zM146,519.5h1.5v1.5h-1.5zM149,519.5h3v1.5h-3zM153.5,519.5h3v1.5h-3zM122,521h3v1.5h-3zM128,521h1.5v1.5h-1.5zM132.5,521h1.5v1.5h-1.5zM138.5,521h4.5v1.5h-4.5zM147.5,521h7.5v1.5h-7.5zM78.5,522.5h3v1.5h-3zM129.5,522.5h1.5v1.5h-1.5zM135.5,522.5h1.5v1.5h-1.5zM138.5,522.5h1.5v1.5h-1.5zM146,522.5h3v1.5h-3zM152,522.5h1.5v1.5h-1.5zM78.5,524h1.5v1.5h-1.5zM132.5,524h4.5v1.5h-4.5zM138.5,524h3v1.5h-3zM143,524h6v1.5h-6zM152,524h4.5v1.5h-4.5zM126.5,525.5h1.5v1.5h-1.5zM131,525.5h3v1.5h-3zM137,525.5h12v1.5h-12zM152,525.5h3v1.5h-3zM120.5,527h1.5v1.5h-1.5zM126.5,527h1.5v1.5h-1.5zM129.5,527h4.5v1.5h-4.5zM137,527h10.5v1.5h-10.5zM150.5,527h1.5v1.5h-1.5zM155,527h1.5v1.5h-1.5zM158,527h1.5v1.5h-1.5zM126.5,528.5h1.5v1.5h-1.5zM131,528.5h1.5v1.5h-1.5zM138.5,528.5h7.5v1.5h-7.5zM152,528.5h3v1.5h-3zM158,528.5h1.5v1.5h-1.5zM125,530h3v1.5h-3zM129.5,530h1.5v1.5h-1.5zM137,530h6v1.5h-6zM153.5,530h1.5v1.5h-1.5zM158,530h3v1.5h-3zM99.5,531.5h1.5v1.5h-1.5zM113,531.5h1.5v1.5h-1.5zM116,531.5h1.5v1.5h-1.5zM126.5,531.5h1.5v1.5h-1.5zM131,531.5h1.5v1.5h-1.5zM135.5,531.5h3v1.5h-3zM141.5,531.5h1.5v1.5h-1.5zM147.5,531.5h3v1.5h-3zM152,531.5h3v1.5h-3zM156.5,531.5h1.5v1.5h-1.5zM159.5,531.5h1.5v1.5h-1.5zM113,533h3v1.5h-3zM123.5,533h1.5v1.5h-1.5zM132.5,533h1.5v1.5h-1.5zM135.5,533h3v1.5h-3zM141.5,533h1.5v1.5h-1.5zM144.5,533h4.5v1.5h-4.5zM150.5,533h10.5v1.5h-10.5zM113,534.5h1.5v1.5h-1.5zM134,534.5h4.5v1.5h-4.5zM144.5,534.5h12v1.5h-12zM159.5,534.5h3v1.5h-3zM90.5,536h1.5v1.5h-1.5zM113,536h1.5v1.5h-1.5zM131,536h1.5v1.5h-1.5zM147.5,536h6v1.5h-6zM155,536h3v1.5h-3zM159.5,536h1.5v1.5h-1.5zM128,537.5h1.5v1.5h-1.5zM131,537.5h3v1.5h-3zM147.5,537.5h1.5v1.5h-1.5zM152,537.5h1.5v1.5h-1.5zM155,537.5h1.5v1.5h-1.5zM158,537.5h4.5v1.5h-4.5zM89,539h3v1.5h-3zM132.5,539h1.5v1.5h-1.5zM144.5,539h6v1.5h-6zM153.5,539h1.5v1.5h-1.5zM162.5,539h1.5v1.5h-1.5zM90.5,540.5h6v1.5h-6zM105.5,540.5h3v1.5h-3zM131,540.5h1.5v1.5h-1.5zM140,540.5h1.5v1.5h-1.5zM147.5,540.5h1.5v1.5h-1.5zM156.5,540.5h4.5v1.5h-4.5zM162.5,540.5h1.5v1.5h-1.5zM92,542h3v1.5h-3zM108.5,542h1.5v1.5h-1.5zM111.5,542h1.5v1.5h-1.5zM131,542h1.5v1.5h-1.5zM156.5,542h1.5v1.5h-1.5zM159.5,542h1.5v1.5h-1.5zM162.5,542h3v1.5h-3zM92,543.5h3v1.5h-3zM98,543.5h1.5v1.5h-1.5zM129.5,543.5h4.5v1.5h-4.5zM140,543.5h1.5v1.5h-1.5zM152,543.5h1.5v1.5h-1.5zM158,543.5h3v1.5h-3zM93.5,545h1.5v1.5h-1.5zM99.5,545h1.5v1.5h-1.5zM113,545h3v1.5h-3zM123.5,545h3v1.5h-3zM128,545h6v1.5h-6zM135.5,545h1.5v1.5h-1.5zM150.5,545h1.5v1.5h-1.5zM153.5,545h1.5v1.5h-1.5zM158,545h1.5v1.5h-1.5zM162.5,545h1.5v1.5h-1.5zM98,546.5h3v1.5h-3zM116,546.5h1.5v1.5h-1.5zM123.5,546.5h4.5v1.5h-4.5zM129.5,546.5h1.5v1.5h-1.5zM135.5,546.5h1.5v1.5h-1.5zM138.5,546.5h1.5v1.5h-1.5zM143,546.5h1.5v1.5h-1.5zM153.5,546.5h1.5v1.5h-1.5zM156.5,546.5h1.5v1.5h-1.5zM159.5,546.5h7.5v1.5h-7.5zM96.5,548h3v1.5h-3zM104,548h1.5v1.5h-1.5zM107,548h1.5v1.5h-1.5zM114.5,548h1.5v1.5h-1.5zM123.5,548h3v1.5h-3zM138.5,548h4.5v1.5h-4.5zM147.5,548h1.5v1.5h-1.5zM153.5,548h1.5v1.5h-1.5zM156.5,548h4.5v1.5h-4.5zM162.5,548h4.5v1.5h-4.5zM101,549.5h1.5v1.5h-1.5zM104,549.5h1.5v1.5h-1.5zM111.5,549.5h1.5v1.5h-1.5zM137,549.5h16.5v1.5h-16.5zM156.5,549.5h1.5v1.5h-1.5zM159.5,549.5h7.5v1.5h-7.5zM101,551h3v1.5h-3zM105.5,551h1.5v1.5h-1.5zM126.5,551h3v1.5h-3zM131,551h1.5v1.5h-1.5zM137,551h1.5v1.5h-1.5zM143,551h4.5v1.5h-4.5zM149,551h1.5v1.5h-1.5zM155,551h4.5v1.5h-4.5zM162.5,551h3v1.5h-3zM167,551h1.5v1.5h-1.5zM102.5,552.5h1.5v1.5h-1.5zM123.5,552.5h1.5v1.5h-1.5zM126.5,552.5h1.5v1.5h-1.5zM135.5,552.5h1.5v1.5h-1.5zM138.5,552.5h1.5v1.5h-1.5zM144.5,552.5h1.5v1.5h-1.5zM155,552.5h1.5v1.5h-1.5zM158,552.5h1.5v1.5h-1.5zM161,552.5h7.5v1.5h-7.5zM101,554h1.5v1.5h-1.5zM104,554h4.5v1.5h-4.5zM111.5,554h1.5v1.5h-1.5zM122,554h9v1.5h-9zM137,554h1.5v1.5h-1.5zM146,554h1.5v1.5h-1.5zM155,554h3v1.5h-3zM162.5,554h1.5v1.5h-1.5zM167,554h3v1.5h-3zM99.5,555.5h1.5v1.5h-1.5zM111.5,555.5h1.5v1.5h-1.5zM119,555.5h1.5v1.5h-1.5zM122,555.5h6v1.5h-6zM131,555.5h3v1.5h-3zM140,555.5h1.5v1.5h-1.5zM146,555.5h1.5v1.5h-1.5zM156.5,555.5h3v1.5h-3zM167,555.5h1.5v1.5h-1.5zM113,557h3v1.5h-3zM120.5,557h1.5v1.5h-1.5zM132.5,557h1.5v1.5h-1.5zM140,557h1.5v1.5h-1.5zM156.5,557h3v1.5h-3zM117.5,558.5h1.5v1.5h-1.5zM120.5,558.5h1.5v1.5h-1.5zM131,558.5h3v1.5h-3zM108.5,560h1.5v1.5h-1.5zM131,560h1.5v1.5h-1.5zM141.5,560h1.5v1.5h-1.5zM150.5,561.5h3v1.5h-3zM165.5,561.5h3v1.5h-3zM179,561.5h1.5v1.5h-1.5zM116,563h3v1.5h-3zM143,563h1.5v1.5h-1.5zM147.5,563h1.5v1.5h-1.5zM177.5,563h3v1.5h-3zM117.5,564.5h1.5v1.5h-1.5zM131,564.5h3v1.5h-3zM179,564.5h1.5v1.5h-1.5zM174.5,566h1.5v1.5h-1.5zM168.5,567.5h4.5v1.5h-4.5zM177.5,567.5h3v1.5h-3zM134,569h4.5v1.5h-4.5zM149,569h3v1.5h-3zM155,569h1.5v1.5h-1.5zM174.5,569h1.5v1.5h-1.5zM134,570.5h4.5v1.5h-4.5zM140,570.5h1.5v1.5h-1.5zM149,570.5h3v1.5h-3zM158,570.5h1.5v1.5h-1.5zM174.5,570.5h1.5v1.5h-1.5z" fill="#0000ff"/>
<path d="M91.5,225h1.5v1.5h-1.5zM94.5,225h1.5v1.5h-1.5zM88.5,226.5h4.5v1.5h-4.5zM94.5,226.5h1.5v1.5h-1.5zM82.5,228h1.5v1.5h-1.5zM93,228h1.5v1.5h-1.5zM81,229.5h3v1.5h-3zM88.5,229.5h3v1.5h-3zM81,231h1.5v1.5h-1.5zM90,231h3v1.5h-3zM96,231h6v1.5h-6zM82.5,232.5h3v1.5h-3zM88.5,232.5h3v1.5h-3zM97.5,232.5h1.5v1.5h-1.5zM85.5,234h6v1.5h-6zM100.5,234h3v1.5h-3zM64.5,235.5h1.5v1.5h-1.5zM69,235.5h1.5v1.5h-1.5zM87,235.5h4.5v1.5h-4.5zM69,237h7.5v1.5h-7.5zM79.5,237h13.5v1.5h-13.5zM58.5,238.5h1.5v1.5h-1.5zM67.5,238.5h1.5v1.5h-1.5zM72,238.5h4.5v1.5h-4.5zM78,238.5h18v1.5h-18zM69,240h1.5v1.5h-1.5zM72,240h13.5v1.5h-13.5zM88.5,240h10.5v1.5h-10.5zM69,241.5h28.5v1.5h-28.5zM99,241.5h3v1.5h-3zM76.5,243h21v1.5h-21zM102,243h3v1.5h-3zM69,244.5h4.5v1.5h-4.5zM75,244.5h21v1.5h-21zM97.5,244.5h3v1.5h-3zM67.5,246h6v1.5h-6zM75,246h24v1.5h-24zM106.5,246h3v1.5h-3zM64.5,247.5h3v1.5h-3zM69,247.5h37.5v1.5h-37.5zM109.5,247.5h1.5v1.5h-1.5zM67.5,249h37.5v1.5h-37.5zM106.5,249h1.5v1.5h-1.5zM64.5,250.5h6v1.5h-6zM72,250.5h31.5v1.5h-31.5zM105,250.5h3v1.5h-3zM64.5,252h3v1.5h-3zM69,252h40.5v1.5h-40.5zM112.5,252h1.5v1.5h-1.5zM69,253.5h1.5v1.5h-1.5zM72,253.5h36v1.5h-36zM112.5,253.5h1.5v1.5h-1.5zM115.5,253.5h1.5v1.5h-1.5zM64.5,255h48v1.5h-48zM66,256.5h46.5v1.5h-46.5zM61.5,258h1.5v1.5h-1.5zM67.5,258h42v1.5h-42zM111,258h1.5v1.5h-1.5zM126,258h1.5v1.5h-1.5zM58.5,259.5h4.5v1.5h-4.5zM64.5,259.5h1.5v1.5h-1.5zM67.5,259.5h42v1.5h-42zM127.5,259.5h4.5v1.5h-4.5zM133.5,259.5h1.5v1.5h-1.5zM58.5,261h6v1.5h-6zM66,261h37.5v1.5h-37.5zM105,261h6v1.5h-6zM117,261h1.5v1.5h-1.5zM124.5,261h1.5v1.5h-1.5zM130.5,261h1.5v1.5h-1.5zM133.5,261h1.5v1.5h-1.5zM136.5,261h1.5v1.5h-1.5zM57,262.5h4.5v1.5h-4.5zM64.5,262.5h1.5v1.5h-1.5zM67.5,262.5h48v1.5h-48zM136.5,262.5h1.5v1.5h-1.5zM61.5,264h1.5v1.5h-1.5zM66,264h1.5v1.5h-1.5zM69,264h33v1.5h-33zM103.5,264h13.5v1.5h-13.5zM135,264h3v1.5h-3zM60,265.5h1.5v1.5h-1.5zM69,265.5h33v1.5h-33zM103.5,265.5h1.5v1.5h-1.5zM106.5,265.5h10.5v1.5h-10.5zM123,265.5h1.5v1.5h-1.5zM126,265.5h1.5v1.5h-1.5zM139.5,265.5h1.5v1.5h-1.5zM61.5,267h3v1.5h-3zM66,267h1.5v1.5h-1.5zM70.5,267h28.5v1.5h-28.5zM103.5,267h12v1.5h-12zM121.5,267h1.5v1.5h-1.5zM124.5,267h1.5v1.5h-1.5zM136.5,267h3v1.5h-3zM58.5,268.5h7.5v1.5h-7.5zM67.5,268.5h1.5v1.5h-1.5zM70.5,268.5h27v1.5h-27zM103.5,268.5h1.5v1.5h-1.5zM106.5,268.5h9v1.5h-9zM121.5,268.5h1.5v1.5h-1.5zM133.5,268.5h3v1.5h-3zM138,268.5h3v1.5h-3zM60,270h1.5v1.5h-1.5zM63,270h33v1.5h-33zM102,270h13.5v1.5h-13.5zM117,270h1.5v1.5h-1.5zM135,270h4.5v1.5h-4.5zM63,271.5h15v1.5h-15zM79.5,271.5h16.5v1.5h-16.5zM97.5,271.5h1.5v1.5h-1.5zM102,271.5h16.5v1.5h-16.5zM136.5,271.5h1.5v1.5h-1.5zM139.5,271.5h1.5v1.5h-1.5zM64.5,273h7.5v1.5h-7.5zM73.5,273h3v1.5h-3zM78,273h21v1.5h-21zM100.5,273h3v1.5h-3zM105,273h1.5v1.5h-1.5zM109.5,273h7.5v1.5h-7.5zM118.5,273h1.5v1.5h-1.5zM63,274.5h6v1.5h-6zM70.5,274.5h3v1.5h-3zM75,274.5h30v1.5h-30zM109.5,274.5h1.5v1.5h-1.5zM112.5,274.5h7.5v1.5h-7.5zM69,276h4.5v1.5h-4.5zM76.5,276h1.5v1.5h-1.5zM79.5,276h24v1.5h-24zM105,276h1.5v1.5h-1.5zM111,276h1.5v1.5h-1.5zM114,276h3v1.5h-3zM118.5,276h1.5v1.5h-1.5zM123,276h1.5v1.5h-1.5zM57,277.5h1.5v1.5h-1.5zM60,277.5h1.5v1.5h-1.5zM72,277.5h1.5v1.5h-1.5zM79.5,277.5h10.5v1.5h-10.5zM93,277.5h7.5v1.5h-7.5zM102,277.5h1.5v1.5h-1.5zM105,277.5h1.5v1.5h-1.5zM112.5,277.5h4.5v1.5h-4.5zM120,277.5h1.5v1.5h-1.5zM124.5,277.5h3v1.5h-3zM135,277.5h1.5v1.5h-1.5zM60,279h1.5v1.5h-1.5zM72,279h1.5v1.5h-1.5zM81,279h9v1.5h-9zM96,279h4.5v1.5h-4.5zM103.5,279h1.5v1.5h-1.5zM111,279h3v1.5h-3zM123,279h1.5v1.5h-1.5zM133.5,279h1.5v1.5h-1.5zM93,280.5h6v1.5h-6zM100.5,280.5h4.5v1.5h-4.5zM108,280.5h1.5v1.5h-1.5zM112.5,280.5h1.5v1.5h-1.5zM130.5,280.5h3v1.5h-3zM82.5,282h12v1.5h-12zM97.5,282h4.5v1.5h-4.5zM111,282h6v1.5h-6zM132,282h1.5v1.5h-1.5zM79.5,283.5h1.5v1.5h-1.5zM85.5,283.5h6v1.5h-6zM96,283.5h3v1.5h-3zM100.5,283.5h3v1.5h-3zM112.5,283.5h3v1.5h-3zM81,285h3v1.5h-3zM87,285h4.5v1.5h-4.5zM93,285h1.5v1.5h-1.5zM99,285h4.5v1.5h-4.5zM109.5,285h7.5v1.5h-7.5zM60,286.5h1.5v1.5h-1.5zM85.5,286.5h7.5v1.5h-7.5zM97.5,286.5h1.5v1.5h-1.5zM100.5,286.5h1.5v1.5h-1.5zM103.5,286.5h1.5v1.5h-1.5zM114,286.5h3v1.5h-3zM60,288h1.5v1.5h-1.5zM87,288h9v1.5h-9zM99,288h1.5v1.5h-1.5zM112.5,288h1.5v1.5h-1.5zM115.5,288h1.5v1.5h-1.5zM139.5,288h1.5v1.5h-1.5zM58.5,289.5h3v1.5h-3zM82.5,289.5h1.5v1.5h-1.5zM85.5,289.5h13.5v1.5h-13.5zM138,289.5h1.5v1.5h-1.5zM61.5,291h1.5v1.5h-1.5zM67.5,291h3v1.5h-3zM79.5,291h4.5v1.5h-4.5zM87,291h3v1.5h-3zM91.5,291h6v1.5h-6zM57,292.5h1.5v1.5h-1.5zM60,292.5h3v1.5h-3zM64.5,292.5h7.5v1.5h-7.5zM78,292.5h10.5v1.5h-10.5zM93,292.5h6v1.5h-6zM57,294h1.5v1.5h-1.5zM60,294h1.5v1.5h-1.5zM64.5,294h7.5v1.5h-7.5zM73.5,294h1.5v1.5h-1.5zM79.5,294h3v1.5h-3zM85.5,294h4.5v1.5h-4.5zM93,294h7.5v1.5h-7.5zM57,295.5h3v1.5h-3zM67.5,295.5h6v1.5h-6zM76.5,295.5h4.5v1.5h-4.5zM85.5,295.5h1.5v1.5h-1.5zM96,295.5h4.5v1.5h-4.5zM66,297h9v1.5h-9zM85.5,297h6v1.5h-6zM94.5,297h6v1.5h-6zM64.5,298.5h13.5v1.5h-13.5zM84,298.5h1.5v1.5h-1.5zM88.5,298.5h6v1.5h-6zM96,298.5h3v1.5h-3zM111,298.5h1.5v1.5h-1.5zM66,300h12v1.5h-12zM85.5,300h4.5v1.5h-4.5zM94.5,300h1.5v1.5h-1.5zM97.5,300h1.5v1.5h-1.5zM69,301.5h3v1.5h-3zM75,301.5h3v1.5h-3zM79.5,301.5h1.5v1.5h-1.5zM85.5,301.5h13.5v1.5h-13.5zM61.5,303h1.5v1.5h-1.5zM87,303h13.5v1.5h-13.5zM105,303h1.5v1.5h-1.5zM48,304.5h1.5v1.5h-1.5zM51,304.5h1.5v1.5h-1.5zM60,304.5h1.5v1.5h-1.5zM84,304.5h1.5v1.5h-1.5zM88.5,304.5h12v1.5h-12zM102,304.5h1.5v1.5h-1.5zM105,304.5h1.5v1.5h-1.5zM51,306h3v1.5h-3zM58.5,306h4.5v1.5h-4.5zM70.5,306h1.5v1.5h-1.5zM79.5,306h1.5v1.5h-1.5zM84,306h1.5v1.5h-1.5zM91.5,306h10.5v1.5h-10.5zM106.5,306h3v1.5h-3zM49.5,307.5h6v1.5h-6zM57,307.5h1.5v1.5h-1.5zM70.5,307.5h1.5v1.5h-1.5zM81,307.5h1.5v1.5h-1.5zM85.5,307.5h1.5v1.5h-1.5zM88.5,307.5h3v1.5h-3zM96,307.5h4.5v1.5h-4.5zM108,307.5h1.5v1.5h-1.5zM51,309h3v1.5h-3zM57,309h1.5v1.5h-1.5zM69,309h4.5v1.5h-4.5zM75,309h3v1.5h-3zM79.5,309h4.5v1.5h-4.5zM85.5,309h9v1.5h-9zM97.5,309h3v1.5h-3zM106.5,309h1.5v1.5h-1.5zM49.5,310.5h6v1.5h-6zM57,310.5h1.5v1.5h-1.5zM70.5,310.5h1.5v1.5h-1.5zM75,310.5h9v1.5h-9zM85.5,310.5h7.5v1.5h-7.5zM96,310.5h4.5v1.5h-4.5zM108,310.5h1.5v1.5h-1.5zM40.5,312h3v1.5h-3zM48,312h1.5v1.5h-1.5zM51,312h9v1.5h-9zM69,312h1.5v1.5h-1.5zM75,312h6v1.5h-6zM82.5,312h10.5v1.5h-10.5zM97.5,312h3v1.5h-3zM39,313.5h6v1.5h-6zM51,313.5h6v1.5h-6zM61.5,313.5h4.5v1.5h-4.5zM67.5,313.5h1.5v1.5h-1.5zM75,313.5h6v1.5h-6zM82.5,313.5h7.5v1.5h-7.5zM99,313.5h1.5v1.5h-1.5zM114,313.5h1.5v1.5h-1.5zM39,315h1.5v1.5h-1.5zM51,315h4.5v1.5h-4.5zM58.5,315h3v1.5h-3zM63,315h3v1.5h-3zM76.5,315h1.5v1.5h-1.5zM79.5,315h10.5v1.5h-10.5zM40.5,316.5h1.5v1.5h-1.5zM58.5,316.5h9v1.5h-9zM79.5,316.5h1.5v1.5h-1.5zM82.5,316.5h7.5v1.5h-7.5zM97.5,316.5h4.5v1.5h-4.5zM51,318h1.5v1.5h-1.5zM54,318h10.5v1.5h-10.5zM82.5,318h7.5v1.5h-7.5zM91.5,318h1.5v1.5h-1.5zM97.5,318h1.5v1.5h-1.5zM108,318h3v1.5h-3zM121.5,318h3v1.5h-3zM49.5,319.5h1.5v1.5h-1.5zM52.5,319.5h1.5v1.5h-1.5zM55.5,319.5h1.5v1.5h-1.5zM60,319.5h4.5v1.5h-4.5zM73.5,319.5h1.5v1.5h-1.5zM76.5,319.5h3v1.5h-3zM87,319.5h3v1.5h-3zM91.5,319.5h1.5v1.5h-1.5zM94.5,319.5h1.5v1.5h-1.5zM97.5,319.5h1.5v1.5h-1.5zM100.5,319.5h1.5v1.5h-1.5zM108,319.5h1.5v1.5h-1.5zM111,319.5h1.5v1.5h-1.5zM121.5,319.5h1.5v1.5h-1.5zM48,321h6v1.5h-6zM58.5,321h9v1.5h-9zM70.5,321h6v1.5h-6zM78,321h1.5v1.5h-1.5zM81,321h1.5v1.5h-1.5zM85.5,321h3v1.5h-3zM93,321h4.5v1.5h-4.5zM99,321h1.5v1.5h-1.5zM106.5,321h4.5v1.5h-4.5zM124.5,321h1.5v1.5h-1.5zM46.5,322.5h3v1.5h-3zM51,322.5h1.5v1.5h-1.5zM63,322.5h4.5v1.5h-4.5zM73.5,322.5h3v1.5h-3zM85.5,322.5h1.5v1.5h-1.5zM88.5,322.5h1.5v1.5h-1.5zM97.5,322.5h6v1.5h-6zM106.5,322.5h1.5v1.5h-1.5zM109.5,322.5h1.5v1.5h-1.5zM48,324h3v1.5h-3zM52.5,324h3v1.5h-3zM57,324h1.5v1.5h-1.5zM61.5,324h4.5v1.5h-4.5zM87,324h3v1.5h-3zM91.5,324h1.5v1.5h-1.5zM94.5,324h1.5v1.5h-1.5zM99,324h1.5v1.5h-1.5zM106.5,324h3v1.5h-3zM48,325.5h6v1.5h-6zM63,325.5h4.5v1.5h-4.5zM87,325.5h10.5v1.5h-10.5zM99,325.5h4.5v1.5h-4.5zM105,325.5h1.5v1.5h-1.5zM108,325.5h1.5v1.5h-1.5zM48,327h6v1.5h-6zM55.5,327h1.5v1.5h-1.5zM60,327h3v1.5h-3zM64.5,327h1.5v1.5h-1.5zM73.5,327h1.5v1.5h-1.5zM88.5,327h7.5v1.5h-7.5zM99,327h1.5v1.5h-1.5zM103.5,327h3v1.5h-3zM108,327h1.5v1.5h-1.5zM111,327h3v1.5h-3zM117,327h1.5v1.5h-1.5zM48,328.5h1.5v1.5h-1.5zM52.5,328.5h3v1.5h-3zM57,328.5h7.5v1.5h-7.5zM72,328.5h4.5v1.5h-4.5zM82.5,328.5h4.5v1.5h-4.5zM88.5,328.5h6v1.5h-6zM96,328.5h1.5v1.5h-1.5zM105,328.5h4.5v1.5h-4.5zM115.5,328.5h3v1.5h-3zM43.5,330h1.5v1.5h-1.5zM58.5,330h4.5v1.5h-4.5zM72,330h6v1.5h-6zM79.5,330h3v1.5h-3zM88.5,330h6v1.5h-6zM105,330h3v1.5h-3zM109.5,330h1.5v1.5h-1.5zM60,331.5h4.5v1.5h-4.5zM72,331.5h6v1.5h-6zM79.5,331.5h1.5v1.5h-1.5zM82.5,331.5h1.5v1.5h-1.5zM87,331.5h7.5v1.5h-7.5zM96,331.5h1.5v1.5h-1.5zM106.5,331.5h1.5v1.5h-1.5zM42,333h1.5v1.5h-1.5zM49.5,333h1.5v1.5h-1.5zM72,333h7.5v1.5h-7.5zM88.5,333h6v1.5h-6zM99,333h1.5v1.5h-1.5zM102,333h1.5v1.5h-1.5zM58.5,334.5h1.5v1.5h-1.5zM73.5,334.5h9v1.5h-9zM87,334.5h1.5v1.5h-1.5zM93,334.5h1.5v1.5h-1.5zM102,334.5h1.5v1.5h-1.5zM48,336h3v1.5h-3zM61.5,336h1.5v1.5h-1.5zM70.5,336h1.5v1.5h-1.5zM73.5,336h3v1.5h-3zM78,336h1.5v1.5h-1.5zM81,336h3v1.5h-3zM85.5,336h1.5v1.5h-1.5zM91.5,336h1.5v1.5h-1.5zM103.5,336h1.5v1.5h-1.5zM51,337.5h3v1.5h-3zM67.5,337.5h1.5v1.5h-1.5zM73.5,337.5h1.5v1.5h-1.5zM78,337.5h1.5v1.5h-1.5zM84,337.5h1.5v1.5h-1.5zM102,337.5h3v1.5h-3zM49.5,339h4.5v1.5h-4.5zM60,339h3v1.5h-3zM64.5,339h1.5v1.5h-1.5zM67.5,339h1.5v1.5h-1.5zM78,339h1.5v1.5h-1.5zM91.5,339h1.5v1.5h-1.5zM105,339h1.5v1.5h-1.5zM49.5,340.5h3v1.5h-3zM63,340.5h7.5v1.5h-7.5zM87,340.5h1.5v1.5h-1.5zM93,340.5h1.5v1.5h-1.5zM52.5,342h1.5v1.5h-1.5zM60,342h4.5v1.5h-4.5zM69,342h1.5v1.5h-1.5zM85.5,342h4.5v1.5h-4.5zM94.5,342h1.5v1.5h-1.5zM52.5,343.5h1.5v1.5h-1.5zM72,343.5h1.5v1.5h-1.5zM82.5,343.5h6v1.5h-6zM91.5,343.5h1.5v1.5h-1.5zM51,345h3v1.5h-3zM61.5,345h1.5v1.5h-1.5zM72,345h1.5v1.5h-1.5zM78,345h18v1.5h-18zM64.5,346.5h1.5v1.5h-1.5zM75,346.5h24v1.5h-24zM63,348h3v1.5h-3zM76.5,348h24v1.5h-24zM61.5,349.5h1.5v1.5h-1.5zM64.5,349.5h1.5v1.5h-1.5zM81,349.5h1.5v1.5h-1.5zM84,349.5h10.5v1.5h-10.5zM97.5,349.5h3v1.5h-3zM61.5,351h1.5v1.5h-1.5zM64.5,351h1.5v1.5h-1.5zM69,351h1.5v1.5h-1.5zM82.5,351h15v1.5h-15zM99,351h1.5v1.5h-1.5zM61.5,352.5h1.5v1.5h-1.5zM69,352.5h3v1.5h-3zM81,352.5h1.5v1.5h-1.5zM85.5,352.5h10.5v1.5h-10.5zM97.5,352.5h3v1.5h-3zM61.5,354h4.5v1.5h-4.5zM69,354h3v1.5h-3zM84,354h13.5v1.5h-13.5zM61.5,355.5h1.5v1.5h-1.5zM64.5,355.5h1.5v1.5h-1.5zM79.5,355.5h15v1.5h-15zM54,357h1.5v1.5h-1.5zM66,357h4.5v1.5h-4.5zM79.5,357h3v1.5h-3zM85.5,357h1.5v1.5h-1.5zM88.5,357h3v1.5h-3zM93,357h1.5v1.5h-1.5zM36,358.5h3v1.5h-3zM54,358.5h3v1.5h-3zM58.5,358.5h1.5v1.5h-1.5zM63,358.5h3v1.5h-3zM67.5,358.5h3v1.5h-3zM72,358.5h1.5v1.5h-1.5zM81,358.5h4.5v1.5h-4.5zM87,358.5h1.5v1.5h-1.5zM90,358.5h4.5v1.5h-4.5zM96,358.5h1.5v1.5h-1.5zM36,360h3v1.5h-3zM64.5,360h6v1.5h-6zM72,360h3v1.5h-3zM82.5,360h1.5v1.5h-1.5zM85.5,360h1.5v1.5h-1.5zM88.5,360h1.5v1.5h-1.5zM93,360h3v1.5h-3zM36,361.5h3v1.5h-3zM63,361.5h1.5v1.5h-1.5zM66,361.5h1.5v1.5h-1.5zM69,361.5h1.5v1.5h-1.5zM72,361.5h4.5v1.5h-4.5zM52.5,363h3v1.5h-3zM63,363h10.5v1.5h-10.5zM75,363h1.5v1.5h-1.5zM81,363h4.5v1.5h-4.5zM90,363h7.5v1.5h-7.5zM52.5,364.5h1.5v1.5h-1.5zM63,364.5h10.5v1.5h-10.5zM75,364.5h4.5v1.5h-4.5zM82.5,364.5h3v1.5h-3zM87,364.5h1.5v1.5h-1.5zM90,364.5h1.5v1.5h-1.5zM63,366h3v1.5h-3zM70.5,366h9v1.5h-9zM87,366h3v1.5h-3zM51,367.5h1.5v1.5h-1.5zM54,367.5h3v1.5h-3zM66,367.5h3v1.5h-3zM70.5,367.5h1.5v1.5h-1.5zM73.5,367.5h1.5v1.5h-1.5zM76.5,367.5h3v1.5h-3zM82.5,367.5h1.5v1.5h-1.5zM102,367.5h1.5v1.5h-1.5zM105,367.5h1.5v1.5h-1.5zM52.5,369h3v1.5h-3zM73.5,369h1.5v1.5h-1.5zM84,369h4.5v1.5h-4.5zM102,369h4.5v1.5h-4.5zM60,370.5h3v1.5h-3zM75,370.5h1.5v1.5h-1.5zM87,370.5h1.5v1.5h-1.5zM90,370.5h1.5v1.5h-1.5zM93,370.5h1.5v1.5h-1.5zM103.5,370.5h3v1.5h-3zM75,372h1.5v1.5h-1.5zM85.5,372h3v1.5h-3zM102,372h4.5v1.5h-4.5zM78,373.5h1.5v1.5h-1.5zM85.5,373.5h3v1.5h-3zM60,375h1.5v1.5h-1.5zM69,375h1.5v1.5h-1.5zM73.5,375h1.5v1.5h-1.5zM76.5,375h4.5v1.5h-4.5zM84,375h1.5v1.5h-1.5zM102,375h1.5v1.5h-1.5zM58.5,376.5h3v1.5h-3zM70.5,376.5h1.5v1.5h-1.5zM75,376.5h9v1.5h-9zM87,376.5h4.5v1.5h-4.5zM93,376.5h1.5v1.5h-1.5zM60,378h6v1.5h-6zM76.5,378h6v1.5h-6zM60,379.5h6v1.5h-6zM75,379.5h7.5v1.5h-7.5z" fill="#008000"/>
<polygon points="505.0,237.5 510.0,237.0 513.0,242.5 508.8,245.5 505.0,242.5" fill="#0000ff"/>
<path d="M493,205h3v1.5h-3zM499,205h3v1.5h-3zM499,206.5h1.5v1.5h-1.5zM490,208h1.5v1.5h-1.5zM493,208h1.5v1.5h-1.5zM497.5,208h1.5v1.5h-1.5zM490,209.5h3v1.5h-3zM496,209.5h1.5v1.5h-1.5zM502,209.5h1.5v1.5h-1.5zM490,211h7.5v1.5h-7.5zM502,211h1.5v1.5h-1.5zM490,212.5h9v1.5h-9zM500.5,212.5h4.5v1.5h-4.5zM490,214h15v1.5h-15zM490,215.5h16.5v1.5h-16.5zM514,215.5h1.5v1.5h-1.5zM490,217h16.5v1.5h-16.5zM509.5,217h6v1.5h-6zM490,218.5h10.5v1.5h-10.5zM502,218.5h3v1.5h-3zM506.5,218.5h1.5v1.5h-1.5zM512.5,218.5h3v1.5h-3zM490,220h1.5v1.5h-1.5zM493,220h6v1.5h-6zM500.5,220h7.5v1.5h-7.5zM512.5,220h3v1.5h-3zM517,220h1.5v1.5h-1.5zM493,221.5h7.5v1.5h-7.5zM505,221.5h1.5v1.5h-1.5zM511,221.5h9v1.5h-9zM521.5,221.5h1.5v1.5h-1.5zM524.5,221.5h1.5v1.5h-1.5zM496,223h1.5v1.5h-1.5zM499,223h1.5v1.5h-1.5zM509.5,223h1.5v1.5h-1.5zM512.5,223h6v1.5h-6zM520,223h1.5v1.5h-1.5zM523,223h1.5v1.5h-1.5zM497.5,224.5h1.5v1.5h-1.5zM500.5,224.5h1.5v1.5h-1.5zM512.5,224.5h4.5v1.5h-4.5zM518.5,224.5h6v1.5h-6zM497.5,226h1.5v1.5h-1.5zM500.5,226h1.5v1.5h-1.5zM514,226h9v1.5h-9zM491.5,227.5h1.5v1.5h-1.5zM517,227.5h1.5v1.5h-1.5zM520,227.5h3v1.5h-3zM518.5,229h4.5v1.5h-4.5zM520,230.5h1.5v1.5h-1.5zM527.5,230.5h1.5v1.5h-1.5zM541,230.5h1.5v1.5h-1.5zM517,232h1.5v1.5h-1.5zM520,232h1.5v1.5h-1.5zM533.5,232h1.5v1.5h-1.5zM538,232h3v1.5h-3zM526,233.5h1.5v1.5h-1.5zM529,233.5h3v1.5h-3zM533.5,233.5h10.5v1.5h-10.5zM514,235h1.5v1.5h-1.5zM532,235h15v1.5h-15zM526,236.5h3v1.5h-3zM532,236.5h4.5v1.5h-4.5zM538,236.5h4.5v1.5h-4.5zM527.5,238h1.5v1.5h-1.5zM530.5,238h1.5v1.5h-1.5zM533.5,238h1.5v1.5h-1.5zM538,238h7.5v1.5h-7.5zM548.5,238h1.5v1.5h-1.5zM538,239.5h7.5v1.5h-7.5zM547,239.5h1.5v1.5h-1.5zM550,239.5h1.5v1.5h-1.5zM539.5,241h4.5v1.5h-4.5zM545.5,241h7.5v1.5h-7.5zM544,242.5h1.5v1.5h-1.5zM547,242.5h4.5v1.5h-4.5zM547,244h4.5v1.5h-4.5zM553,244h3v1.5h-3zM563.5,251.5h1.5v1.5h-1.5zM565,256h1.5v1.5h-1.5zM568,256h1.5v1.5h-1.5zM584.5,256h1.5v1.5h-1.5zM565,257.5h1.5v1.5h-1.5zM569.5,257.5h1.5v1.5h-1.5zM577,257.5h1.5v1.5h-1.5zM580,257.5h1.5v1.5h-1.5zM584.5,257.5h3v1.5h-3zM563.5,259h3v1.5h-3zM575.5,259h3v1.5h-3zM584.5,259h1.5v1.5h-1.5zM562,260.5h3v1.5h-3zM575.5,260.5h1.5v1.5h-1.5zM581.5,260.5h9v1.5h-9zM559,262h6v1.5h-6zM571,262h3v1.5h-3zM575.5,262h10.5v1.5h-10.5zM589,262h3v1.5h-3zM563.5,263.5h1.5v1.5h-1.5zM569.5,263.5h3v1.5h-3zM577,263.5h3v1.5h-3zM584.5,263.5h1.5v1.5h-1.5zM560.5,265h4.5v1.5h-4.5zM569.5,265h1.5v1.5h-1.5zM572.5,265h1.5v1.5h-1.5zM575.5,265h3v1.5h-3zM584.5,265h3v1.5h-3zM589,265h1.5v1.5h-1.5zM560.5,266.5h1.5v1.5h-1.5zM565,266.5h4.5v1.5h-4.5zM577,266.5h3v1.5h-3zM586,266.5h4.5v1.5h-4.5zM562,268h6v1.5h-6zM571,268h1.5v1.5h-1.5zM578.5,268h1.5v1.5h-1.5zM581.5,268h9v1.5h-9zM563.5,269.5h9v1.5h-9zM578.5,269.5h1.5v1.5h-1.5zM583,269.5h4.5v1.5h-4.5zM589,269.5h6v1.5h-6zM566.5,271h4.5v1.5h-4.5zM575.5,271h3v1.5h-3zM580,271h1.5v1.5h-1.5zM583,271h3v1.5h-3zM587.5,271h1.5v1.5h-1.5zM592,271h1.5v1.5h-1.5zM563.5,272.5h6v1.5h-6zM574,272.5h6v1.5h-6zM581.5,272.5h1.5v1.5h-1.5zM589,272.5h6v1.5h-6zM565,274h3v1.5h-3zM569.5,274h1.5v1.5h-1.5zM575.5,274h6v1.5h-6zM583,274h1.5v1.5h-1.5zM589,274h6v1.5h-6zM563.5,275.5h1.5v1.5h-1.5zM566.5,275.5h3v1.5h-3zM575.5,275.5h6v1.5h-6zM583,275.5h1.5v1.5h-1.5zM592,275.5h3v1.5h-3zM533.5,277h1.5v1.5h-1.5zM565,277h3v1.5h-3zM569.5,277h3v1.5h-3zM580,277h1.5v1.5h-1.5zM592,277h3v1.5h-3zM571,278.5h3v1.5h-3zM578.5,278.5h1.5v1.5h-1.5zM593.5,280h1.5v1.5h-1.5zM578.5,287.5h1.5v1.5h-1.5z" fill="#0000ff"/>
</g>
<g fill="#aed0f0">
<polygon points="191.2,281.2 200.0,281.2 212.5,283.8 230.0,282.5 233.8,286.2 225.0,288.8 230.0,293.8 240.0,292.5 241.2,297.5 236.2,306.2 230.0,305.0 222.5,302.5 217.5,308.8 207.5,313.0 205.0,310.0 215.0,305.0 213.8,302.5 203.8,306.2 196.2,305.0 195.0,301.2 202.5,297.5 208.8,291.2 203.8,287.5 193.8,285.0"/>
<polygon points="211.2,381.2 216.2,383.8 222.5,381.2 232.5,377.5 236.2,370.0 231.2,360.0 235.0,362.5 240.0,371.2 245.0,377.5 255.0,376.2 262.5,372.5 267.5,368.8 275.0,370.0 281.2,373.8 278.8,376.2 270.0,375.0 263.8,378.8 255.0,383.8 245.0,387.5 238.8,392.5 227.5,391.2 220.0,388.8 215.0,385.0"/>
<polygon points="215.0,342.5 220.0,341.2 223.0,350.0"/>
<polygon points="248.8,438.8 257.5,432.5 266.2,426.2 272.5,431.2 291.2,437.0 275.0,435.0 260.0,435.0 250.0,440.0"/>
<polygon points="237.5,433.8 241.2,433.0 242.5,442.5 239.5,441.2"/>
<polygon points="336.2,375.0 342.5,372.5 346.2,373.8 342.5,383.8 338.8,382.5"/>
<polygon points="352.5,382.0 356.2,380.5 357.5,383.8 353.8,385.0"/>
<polygon points="363.8,383.8 370.0,385.0 370.0,390.0 365.0,388.0"/>
<polygon points="312.5,491.0 317.5,475.0 325.0,462.5 330.0,466.0 326.0,475.0 320.0,485.0 315.0,491.0"/>
<polygon points="326.0,420.0 330.0,419.0 331.0,430.0 327.0,429.0"/>
<polygon points="346.0,487.5 355.0,479.0 360.0,472.5 361.0,479.0 355.0,485.0 349.0,489.0"/>
<polygon points="256.0,485.0 261.0,475.0 266.0,480.0 264.0,487.5 260.0,494.0"/>
<polygon points="290.0,509.0 294.0,507.0 298.0,508.0 295.0,512.0"/>
<polygon points="347.0,543.3 350.6,536.8 356.2,536.8 357.0,537.0 359.0,528.5 360.8,529.5 359.3,538.7 360.8,541.4 363.5,548.8 366.3,557.1 368.1,564.5 370.0,570.9 372.7,576.4 374.6,582.9 373.7,592.1 370.9,597.6 368.1,593.9 369.1,584.7 370.9,579.2 367.2,573.7 365.4,578.3 364.5,570.0 358.9,569.1 354.3,562.6 350.6,557.1 347.9,551.6"/>
<polygon points="329.5,541.4 334.1,539.6 336.8,530.4 339.6,530.4 338.7,535.9 343.3,534.1 339.6,539.6 343.3,546.0 344.2,549.7 339.6,548.8 339.6,557.1 338.7,566.3 339.6,571.8 343.3,573.7 347.9,575.5 348.8,581.0 350.6,586.6 355.2,593.9 356.2,597.6 352.5,600.4 350.6,595.8 348.2,588.4 346.0,581.0 341.4,575.5 336.8,573.7 335.0,566.3 335.9,557.1 334.1,553.4 330.4,553.4 327.6,548.8 332.2,547.9 330.4,544.2"/>
<polygon points="390.0,536.0 399.0,537.0 398.0,540.0 391.0,539.0"/>
<polygon points="336.0,381.0 343.0,380.0 342.0,385.0 338.0,384.0"/>
<polygon points="353.0,381.0 357.0,381.0 357.0,385.0 353.0,384.0"/>
<polygon points="364.0,384.0 370.0,385.0 371.0,391.0 366.0,389.0"/>
<polygon points="542.5,285.0 557.5,287.5 556.0,294.0 550.0,301.0 545.0,295.0"/>
<polygon points="550.0,314.0 556.0,312.5 562.5,319.0 556.0,322.5 551.0,324.0"/>
<polygon points="576.0,466.0 581.0,465.0 586.0,468.0 580.0,470.0"/>
<polygon points="576.2,466.2 580.0,464.5 585.5,467.0 583.8,470.0 578.0,469.5"/>
<polygon points="612.5,593.8 618.8,588.8 625.0,592.5 620.0,596.2 613.8,596.2"/>
<polygon points="615.0,550.0 621.2,540.0 623.0,541.2 618.0,555.0 616.5,562.5 615.0,561.2"/>
<polygon points="613.8,591.2 620.0,587.5 626.2,592.5 620.0,595.0 615.0,596.2"/>
<polygon points="423.8,661.2 431.2,652.5 442.5,642.5 455.0,632.5 461.2,622.5 470.0,618.0 482.5,619.5 491.2,622.5 495.0,630.0 507.5,631.2 508.8,640.0 512.5,646.2 516.2,655.0 507.5,653.8 497.5,658.8 485.0,660.0 473.8,656.2 468.8,652.5 473.8,645.0 466.2,650.0 460.0,656.2 450.0,660.0 438.8,662.5"/>
<polygon points="482.5,677.5 492.5,670.0 502.5,665.0 511.2,666.2 513.8,670.0 508.8,677.5 505.0,685.0 500.0,690.0 497.5,700.0 498.8,712.5 503.8,725.0 501.2,735.0 495.0,740.0 487.5,738.8 482.5,727.5 481.2,710.0 482.5,695.0 477.5,695.0 481.2,685.0"/>
<polygon points="516.2,662.5 527.5,658.8 540.0,656.2 555.0,656.2 565.0,658.8 572.5,665.0 578.8,671.2 580.0,675.0 575.0,678.8 567.5,676.2 560.0,671.2 555.0,670.0 558.8,677.5 561.2,682.5 557.5,690.0 558.8,700.0 556.2,708.8 552.5,717.5 548.8,710.0 545.0,700.0 542.5,695.0 537.5,696.2 535.0,703.8 531.2,702.5 531.2,696.2 536.2,690.0 537.5,680.0 533.8,672.5 525.0,667.5 516.2,667.5"/>
<polygon points="548.8,732.5 556.2,726.2 565.0,720.0 575.0,712.5 585.0,707.5 595.0,703.8 597.5,700.0 595.0,707.5 587.5,715.0 580.0,722.5 572.5,730.0 565.0,736.2 556.2,740.0 550.0,740.0 543.8,736.2"/>
<polygon points="586.2,698.8 586.2,693.8 592.5,687.5 600.0,683.8 607.5,681.2 617.5,677.5 626.2,675.0 627.5,681.2 620.0,686.2 610.0,690.0 600.0,692.5 592.5,696.2"/>
<polygon points="457.5,598.8 463.8,597.5 466.2,605.0 463.8,610.0 457.5,608.8"/>
<polygon points="549.5,722.5 552.5,722.0 552.0,725.5 549.5,725.0"/>
<polygon points="386.6,617.9 388.4,611.4 393.9,605.9 395.8,610.5 400.4,615.1 397.6,619.7 392.1,622.5 387.5,622.5"/>
<polygon points="423.8,661.2 435.0,650.0 440.0,645.0 440.0,652.5 432.5,658.8"/>
</g>
<g stroke="#aed0f0" fill="none" stroke-linecap="round" stroke-linejoin="round">
<polyline points="412.3,78.9 419.9,77.6 425.6,76.1 431.3,73.2 437.1,70.3 439.9,67.5" stroke-width="2.4"/>
<polyline points="433.3,72.3 435.2,64.6 437.1,59.8" stroke-width="1.5"/>
<polyline points="419.9,77.2 415.1,72.3 410.4,70.3" stroke-width="1.4"/>
<polyline points="403.7,70.3 414.2,67.5 423.7,66.1" stroke-width="1.4"/>
<polyline points="425.6,80.8 430.4,87.5 435.5,91.3" stroke-width="2.0"/>
<polyline points="423.3,104.7 429.4,106.2 435.2,103.7" stroke-width="2.4"/>
<polyline points="433.3,119.0 435.2,125.7 433.3,131.4 428.5,132.4" stroke-width="2.0"/>
<polyline points="426.0,124.7 422.8,129.5" stroke-width="1.8"/>
<polyline points="460.0,47.1 465.7,43.6" stroke-width="1.4"/>
<polyline points="447.6,91.3 456.2,90.4" stroke-width="1.4"/>
<polyline points="448.5,99.0 456.2,97.4" stroke-width="1.4"/>
<polyline points="433.3,151.6 435.2,144.8" stroke-width="1.3"/>
<polyline points="440.9,152.6 439.9,146.7" stroke-width="1.3"/>
<polyline points="448.5,151.6 447.6,146.7" stroke-width="1.3"/>
<polyline points="422.8,42.7 427.5,50.3" stroke-width="1.3"/>
<polyline points="430.4,33.1 434.2,38.9" stroke-width="1.3"/>
<polyline points="437.6,196.1 435.0,201.8 433.7,209.2 434.5,216.6 436.6,223.9 439.7,230.3 443.6,234.3" stroke-width="3.0"/>
<polyline points="458.2,193.2 459.7,198.7 462.4,203.9 464.3,207.3" stroke-width="1.6"/>
<polyline points="464.5,207.6 465.7,212.4 464.1,216.6 464.6,221.3" stroke-width="1.5"/>
<polyline points="464.5,207.4 468.7,205.8 473.9,203.4 478.7,202.4" stroke-width="2.0"/>
<polyline points="428.7,241.3 425.5,244.2" stroke-width="1.5"/>
<polyline points="660.0,457.5 665.0,462.5 672.5,465.0 680.0,463.8 685.0,458.8 693.8,457.5" stroke-width="1.3"/>
<polyline points="680.0,465.0 678.8,472.5 686.2,476.2 693.8,483.8" stroke-width="1.3"/>
<polyline points="670.0,459.5 675.0,462.5" stroke-width="1.2"/>
<polyline points="686.2,485.0 690.0,486.2" stroke-width="1.5"/>
<polyline points="726.8,450.8 729.5,441.2 734.2,433.2" stroke-width="2.2"/>
<circle cx="663.75" cy="522.5" r="5" stroke-width="1.3"/>
<polyline points="663.0,516.2 662.0,513.8" stroke-width="1.2"/>
<polyline points="668.0,518.0 670.0,515.0" stroke-width="1.2"/>
<polyline points="381.2,361.2 392.5,363.8 402.5,367.5 412.5,370.0 421.8,373.0" stroke-width="1.8"/>
<polyline points="380.5,361.2 387.5,362.5" stroke-width="2.6"/>
</g>
</g>
<clipPath id="band">
<polygon points="36.3,293.4 38.9,301.3 45.0,307.1 45.1,310.1 46.1,332.2 53.7,334.9 66.1,334.1 66.6,345.0 66.0,363.8 62.5,392.0 69.3,406.8 70.0,409.8 65.3,421.6 69.7,423.4 75.0,410.2 73.9,405.2 67.5,391.2 70.8,364.2 71.4,345.0 70.7,329.1 54.3,330.1 50.7,328.8 49.9,309.9 49.8,304.9 43.1,298.7 41.7,294.6 143.8,178.6 140.2,175.4 36.3,293.4"/>
<polygon points="109.2,568.3 121.7,572.3 149.2,583.3 174.4,591.3 199.4,597.3 219.4,603.3 251.5,610.3 284.6,617.4 319.8,621.4 364.9,623.4 384.5,623.4 404.3,631.3 419.4,634.8 429.2,637.5 435.3,635.0 449.6,637.4 450.4,632.6 434.7,630.0 428.8,632.5 420.6,630.2 405.7,626.7 385.5,618.6 365.1,618.6 320.2,616.6 285.4,612.6 252.5,605.7 220.6,598.7 200.6,592.7 175.6,586.7 150.8,578.7 123.3,567.7 110.8,563.7 84.9,552.8 83.1,557.2 109.2,568.3"/>
<polygon points="643.6,648.2 658.1,644.8 676.4,639.6 682.3,632.0 684.9,615.3 686.4,598.1 689.3,590.9 697.6,587.6 703.3,589.5 707.8,598.5 713.0,610.5 721.7,617.4 730.0,617.4 730.0,612.6 723.3,612.6 717.0,607.5 712.2,596.5 706.7,585.5 697.4,582.4 685.7,587.1 681.6,596.9 680.1,614.7 677.7,630.0 673.6,635.4 656.9,640.2 641.4,643.8 636.0,648.1 639.0,651.9 643.6,648.2"/>
</clipPath></defs>
<g filter="url(#rag)"><use href="#cl"/></g>
<g clip-path="url(#band)"><g fill="#96e6b4">
<polygon points="21.0,117.0 22.0,112.0 24.0,104.0 23.0,96.0 26.0,84.0 29.0,72.0 33.0,65.0 40.0,64.0 43.0,70.0 52.0,75.0 65.0,74.0 75.0,77.0 81.0,83.0 88.0,82.0 97.0,91.0 104.0,90.0 104.0,97.0 100.0,99.0 105.0,104.0 110.0,112.0 108.0,117.0 114.0,127.0 120.0,136.0 128.0,153.0 137.0,163.0 140.0,175.0 142.0,177.0 39.0,294.0 32.5,296.0 26.0,290.0 21.0,286.0"/>
<polygon points="39.0,294.0 41.0,300.0 47.4,306.0 47.5,310.0 48.4,330.5 54.0,332.5 68.4,331.6 69.0,345.0 68.4,364.0 65.0,391.6 71.6,406.0 72.5,410.0 67.4,423.0 60.0,427.0 47.0,423.0 39.0,410.5 37.0,385.0 38.0,364.0 43.0,332.6 40.0,307.0 35.0,300.0 30.5,294.7"/>
<polygon points="55.0,570.0 84.0,555.0 110.0,566.0 122.5,570.0 150.0,581.0 175.0,589.0 200.0,595.0 220.0,601.0 285.0,615.0 320.0,619.0 365.0,621.0 385.0,621.0 405.0,629.0 420.0,632.5 450.0,635.0 470.0,640.0 520.0,660.0 560.0,700.0 600.0,690.0 630.0,665.0 640.0,651.0 657.5,642.5 675.0,637.5 680.0,631.0 682.5,615.0 684.0,597.5 687.5,589.0 697.5,585.0 705.0,587.5 710.0,597.5 715.0,609.0 722.5,615.0 730.0,615.0 725.0,622.5 717.5,632.5 710.0,640.0 702.5,650.0 699.0,665.0 702.5,675.0 710.0,682.5 715.0,685.0 705.0,690.0 697.5,695.0 687.5,707.5 690.0,712.5 675.0,722.0 670.0,726.0 675.0,741.0 21.0,741.0 21.0,636.0 22.5,636.0 32.5,622.5 42.5,607.5 50.0,591.0 54.0,580.0"/>
</g><use href="#cl"/></g>
<g clip-path="url(#can)">
<g stroke="#000" stroke-opacity="0.75" stroke-width="0.8" fill="none" stroke-linejoin="round">
<polyline points="45.6,309.3 52.2,314.6 58.8,319.9 65.6,325.1 72.4,330.1 79.3,335.1 86.3,339.9 93.3,344.6 100.4,349.2 107.6,353.7 114.9,358.1 122.2,362.3 129.6,366.5 137.1,370.5 144.6,374.4 152.2,378.2 159.9,381.9 167.6,385.4 175.3,388.9 183.1,392.2 191.0,395.4 198.9,398.4 206.9,401.3 214.9,404.1 222.9,406.8 231.0,409.4 239.2,411.8 247.3,414.1 255.5,416.2 263.8,418.3 272.0,420.2 280.3,422.0 288.7,423.6 297.0,425.1 305.4,426.5 313.8,427.7 322.2,428.8 330.6,429.8 339.1,430.7 347.5,431.4 356.0,431.9 364.4,432.4 372.9,432.7 381.4,432.9 389.9,432.9"/>
<polyline points="155.0,204.0 137.5,227.5 147.5,237.5 142.5,255.0 136.0,272.5 140.0,297.5 134.0,325.0 139.0,340.0 139.0,355.0 155.0,361.0 154.0,380.0"/>
<polyline points="182.7,392.0 142.4,489.1 150.0,502.5 151.0,515.0 160.0,530.0 166.0,542.5 172.5,556.0 175.0,564.0 172.5,588.0"/>
<polyline points="262.8,418.1 218.9,600.7"/>
<polyline points="330.0,429.5 322.5,500.0 317.5,618.0"/>
<polyline points="445.0,485.0 411.0,529.0 387.5,555.0 386.5,621.0"/>
<polyline points="241.0,240.0 231.0,265.0 250.0,297.5 269.0,322.5 281.0,326.0 287.5,340.0 337.5,359.0 329.3,429.7"/>
<polyline points="263.3,242.1 287.2,251.0 288.0,249.5 302.9,253.2 313.9,203.4 325.0,161.0 336.0,118.0"/>
<polyline points="554.0,560.0 560.0,585.0 565.0,610.0 571.0,627.5 582.5,641.0 595.0,642.5 605.0,645.0 616.0,650.0 627.5,645.0 636.0,640.0 640.0,644.0"/>
<polyline points="633.0,368.8 637.5,377.5 643.8,385.0 651.2,390.0 653.8,398.8 662.5,405.0 666.2,417.5 672.5,427.5 680.0,437.5 685.0,450.0 675.0,452.5 663.8,453.8 656.2,453.8 650.0,460.0 653.8,467.5 660.0,475.0 666.2,485.0 667.5,490.0"/>
<polyline points="665.0,491.2 675.0,490.0 681.2,498.8 690.0,497.5 698.8,496.2 702.5,500.0 701.2,487.5 698.8,481.2 702.5,477.5 706.2,489.5 767.5,453.8 772.5,461.2"/>
<polyline points="707.5,567.5 700.0,572.5 693.8,577.5 691.2,586.2 688.0,588.8"/>
</g>
</g>
</g>
<path d="M0,0H880V760H0Z M21.5,20.5V741.5H860.5V20.5Z" fill="#fff" fill-rule="evenodd"/>
<rect x="1.5" y="1.5" width="878" height="758" fill="none" stroke="#000" stroke-width="1"/>
<rect x="21.5" y="20.5" width="839" height="721" fill="none" stroke="#000" stroke-width="1"/>
<g stroke="#000" stroke-width="1.7">
<line x1="86" y1="15" x2="86" y2="20"/>
<line x1="183" y1="15" x2="183" y2="20"/>
<line x1="242" y1="15" x2="242" y2="20"/>
<line x1="282.5" y1="15" x2="282.5" y2="20"/>
<line x1="312" y1="15" x2="312" y2="20"/>
<line x1="336" y1="15" x2="336" y2="20"/>
<line x1="359" y1="15" x2="359" y2="20"/>
<line x1="378.5" y1="15" x2="378.5" y2="20"/>
<line x1="398" y1="15" x2="398" y2="20"/>
<line x1="419" y1="15" x2="419" y2="20"/>
<line x1="440" y1="15" x2="440" y2="20"/>
<line x1="465" y1="15" x2="465" y2="20"/>
<line x1="495" y1="15" x2="495" y2="20"/>
<line x1="535" y1="15" x2="535" y2="20"/>
<line x1="592.5" y1="15" x2="592.5" y2="20"/>
<line x1="689" y1="15" x2="689" y2="20"/>
<line x1="38" y1="741" x2="38" y2="746"/>
<line x1="185.75" y1="741" x2="185.75" y2="746"/>
<line x1="321.75" y1="741" x2="321.75" y2="746"/>
<line x1="455" y1="741" x2="455" y2="746"/>
<line x1="591.75" y1="741" x2="591.75" y2="746"/>
<line x1="739.25" y1="741" x2="739.25" y2="746"/>
<line x1="16" y1="286" x2="21" y2="286"/>
<line x1="16" y1="500" x2="21" y2="500"/>
<line x1="16" y1="698.75" x2="21" y2="698.75"/>
<line x1="861" y1="151.7" x2="866" y2="151.7"/>
<line x1="861" y1="423" x2="866" y2="423"/>
<line x1="861" y1="642.5" x2="866" y2="642.5"/>
</g>
<g font-size="9.5" text-anchor="middle" stroke="#000" stroke-width="0.2">
<text x="86" y="11.5">170°W</text>
<text x="183" y="11.5">160°W</text>
<text x="242" y="11.5">150°W</text>
<text x="282.5" y="11.5">140°W</text>
<text x="336" y="11.5">120°W</text>
<text x="378.5" y="11.5">100°W</text>
<text x="419" y="11.5">80°W</text>
<text x="465" y="11.5">60°W</text>
<text x="495" y="11.5">50°W</text>
<text x="535" y="11.5">40°W</text>
<text x="592.5" y="11.5">30°W</text>
<text x="689" y="11.5">20°W</text>
<text x="38" y="756.4">120°W</text>
<text x="185.75" y="756.4">110°W</text>
<text x="321.75" y="756.4">100°W</text>
<text x="455" y="756.4">90°W</text>
<text x="591.75" y="756.4">80°W</text>
<text x="739.25" y="756.4">70°W</text>
<text font-size="10" transform="translate(11.5,286) rotate(-90)">60°N</text>
<text font-size="10" transform="translate(11.5,500) rotate(-90)">50°N</text>
<text font-size="10" transform="translate(11.5,698.75) rotate(-90)">40°N</text>
<text font-size="10" transform="translate(876.3,151.7) rotate(-90)">60°N</text>
<text font-size="10" transform="translate(876.3,423) rotate(-90)">50°N</text>
<text font-size="10" transform="translate(876.3,642.5) rotate(-90)">40°N</text>
</g>
<g font-size="30" stroke="#000" stroke-width="0.3"><text x="540" y="59.5">Temperature</text><text x="540" y="89.5">Température</text></g>
<text x="540" y="120" font-size="24.3" stroke="#000" stroke-width="0.2">2016-03-16</text>
<rect x="625.5" y="135.4" width="34.5" height="17" fill="#0000ff" stroke="#000" stroke-width="1"/>
<text x="675.6" y="149.70000000000002" font-size="16" textLength="40.2" lengthAdjust="spacingAndGlyphs" stroke="#000" stroke-width="0.25">< 0 °C</text>
<rect x="625.5" y="160.4" width="34.5" height="17" fill="#008000" stroke="#000" stroke-width="1"/>
<text x="675.6" y="174.70000000000002" font-size="16" textLength="38.5" lengthAdjust="spacingAndGlyphs" stroke="#000" stroke-width="0.25">0 - 10</text>
<rect x="625.5" y="185.4" width="34.5" height="17" fill="#00dc00" stroke="#000" stroke-width="1"/>
<text x="675.6" y="199.70000000000002" font-size="16" textLength="47" lengthAdjust="spacingAndGlyphs" stroke="#000" stroke-width="0.25">10 - 20</text>
<rect x="625.5" y="210.4" width="34.5" height="17" fill="#ffff00" stroke="#000" stroke-width="1"/>
<text x="675.6" y="224.70000000000002" font-size="16" textLength="47" lengthAdjust="spacingAndGlyphs" stroke="#000" stroke-width="0.25">20 - 25</text>
<rect x="625.5" y="235.5" width="34.5" height="17" fill="#e0a000" stroke="#000" stroke-width="1"/>
<text x="675.6" y="249.8" font-size="16" textLength="47" lengthAdjust="spacingAndGlyphs" stroke="#000" stroke-width="0.25">25 - 30</text>
<rect x="625.5" y="260.5" width="34.5" height="17" fill="#ff0000" stroke="#000" stroke-width="1"/>
<text x="675.6" y="274.8" font-size="16" textLength="29.5" lengthAdjust="spacingAndGlyphs" stroke="#000" stroke-width="0.25">> 30</text>
<rect x="33" y="33" width="10.7" height="21.5" fill="#be0000"/><rect x="65.3" y="33" width="10.5" height="21.5" fill="#be0000"/>
<path transform="translate(54.5,44) scale(1.12) translate(-54.5,-44)" d="M54.5,34.5 l1.6,3 1.7,-0.9 -0.8,4.3 2.2,-2.3 0.4,1.2 2.4,-0.5 -1.1,3 1,0.6 -4.4,3.6 0.5,1.6 -3.1,-0.4 v3.9 h-0.8 v-3.9 l-3.1,0.4 0.5,-1.6 -4.4,-3.6 1,-0.6 -1.1,-3 2.4,0.5 0.4,-1.2 2.2,2.3 -0.8,-4.3 1.7,0.9z" fill="#be0000"/>
<g font-size="10.85"><text x="81.5" y="41">Natural Resources</text><text x="81.5" y="54.5">Canada</text><text x="186.5" y="41">Ressources naturelles</text><text x="186.5" y="54.5">Canada</text></g>
<g stroke="#000" stroke-width="1" fill="#fff"><rect x="47" y="706.5" width="312" height="8"/>
<line x1="125" y1="706.5" x2="125" y2="714.5"/><line x1="203" y1="706.5" x2="203" y2="714.5"/><line x1="281" y1="706.5" x2="281" y2="714.5"/>
<line x1="47" y1="710.5" x2="125" y2="710.5"/><line x1="203" y1="710.5" x2="281" y2="710.5"/></g>
<g font-size="10.5" text-anchor="middle"><text x="46.5" y="728.7">0</text><text x="124.5" y="728.7">500</text><text x="202.5" y="728.7">1000</text><text x="281" y="728.7">1500</text><text x="369.5" y="728.7">2000 km</text></g>
<text x="690.5" y="732" font-size="60" stroke="#000" stroke-width="0.9" style="font-family:'Liberation Serif',serif" textLength="157" lengthAdjust="spacingAndGlyphs">Canada</text>
<rect x="826.3" y="693" width="5" height="10.8" fill="#ff0000"/><rect x="842" y="693" width="5" height="10.8" fill="#ff0000"/>
<path d="M836.6,693.6 l0.9,1.6 0.9,-0.5 -0.4,2.3 1.2,-1.2 0.2,0.6 1.3,-0.3 -0.6,1.6 0.5,0.3 -2.3,1.9 0.3,0.9 -1.7,-0.2 v2.4 h-0.6 v-2.4 l-1.7,0.2 0.3,-0.9 -2.3,-1.9 0.5,-0.3 -0.6,-1.6 1.3,0.3 0.2,-0.6 1.2,1.2 -0.4,-2.3 0.9,0.5z" fill="#ff0000"/>
</svg></body></html>
